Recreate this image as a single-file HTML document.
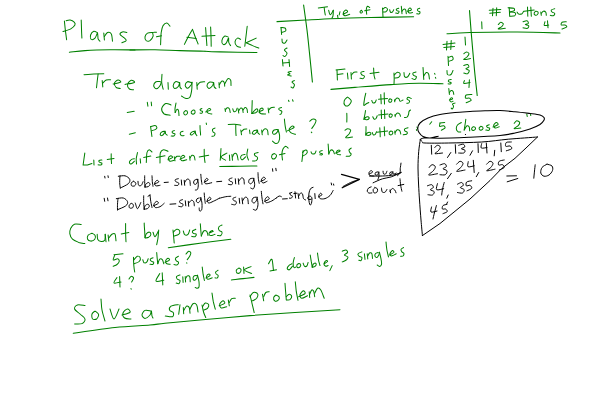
<!DOCTYPE html>
<html><head><meta charset="utf-8"><title>Plans of Attack</title>
<style>html,body{margin:0;padding:0;background:#fff;font-family:"Liberation Sans",sans-serif}svg{display:block}</style>
</head><body>
<svg width="600" height="400" viewBox="0 0 600 400">
<rect width="600" height="400" fill="#ffffff"/>
<g fill="none" stroke="#008000" stroke-width="1.02" stroke-linecap="round" stroke-linejoin="round">
<path d="M64.4 21.1 C64.6 22.7 65.0 27.4 65.4 30.5 C65.8 33.6 66.4 38.2 66.6 39.7"/>
<path d="M66.1 20.7 C66.8 20.6 68.8 19.9 70.1 20.1 C71.4 20.3 73.4 21.3 74.2 22.1 C75.0 22.9 75.5 24.0 74.9 25.1 C74.3 26.2 72.8 27.8 70.8 28.9 C68.8 30.0 64.3 31.2 63.0 31.6"/>
<path d="M81.2 20.0 C81.3 21.5 81.4 25.7 81.5 28.8 C81.6 31.8 81.8 36.6 81.9 38.1"/>
<path d="M97.5 32.8 C96.9 32.5 94.9 30.9 93.8 31.2 C92.6 31.6 91.0 33.6 90.6 35.0 C90.2 36.4 90.5 38.9 91.2 39.4 C92.0 39.9 94.0 39.2 95.0 38.1 C96.0 37.1 97.0 33.0 97.5 33.1 C98.0 33.2 97.7 37.4 98.1 38.8 C98.5 40.1 99.7 40.8 100.0 41.2"/>
<path d="M103.8 33.1 L104.4 40.0"/>
<path d="M104.4 36.5 C104.9 35.8 106.4 33.0 107.5 32.5 C108.6 32.0 110.4 32.3 111.2 33.8 C112.1 35.2 112.3 40.0 112.5 41.2"/>
<path d="M126.9 32.5 C126.1 32.4 123.6 31.6 122.5 31.9 C121.4 32.2 119.8 33.4 120.0 34.4 C120.2 35.3 122.7 36.5 123.8 37.5 C124.8 38.5 126.6 39.8 126.2 40.6 C125.9 41.5 122.6 42.4 121.9 42.8"/>
<path d="M152.8 32.5 C151.9 32.6 148.8 32.4 147.5 33.1 C146.2 33.9 145.2 35.6 145.0 36.9 C144.8 38.1 145.4 40.0 146.2 40.6 C147.1 41.2 148.9 41.4 150.0 40.6 C151.1 39.9 152.7 37.6 153.1 36.2 C153.6 34.9 152.2 33.2 152.8 32.5 C153.3 31.8 155.9 32.3 156.5 32.2"/>
<path d="M170.0 26.2 C169.5 25.7 168.0 23.2 166.9 23.1 C165.7 23.0 164.1 24.1 163.1 25.6 C162.2 27.2 161.7 29.3 161.2 32.5 C160.8 35.7 160.7 42.7 160.6 44.8"/>
<path d="M156.5 36.8 L161.5 35.8"/>
<path d="M192.5 29.4 C191.8 30.6 189.5 34.4 188.1 36.9 C186.8 39.4 185.0 43.1 184.4 44.4"/>
<path d="M192.5 29.4 C192.9 30.5 194.1 33.8 195.0 36.2 C195.9 38.7 197.6 42.7 198.1 44.0"/>
<path d="M186.9 37.2 L196.2 38.5"/>
<path d="M205.6 27.5 C205.7 29.0 206.0 33.2 206.2 36.2 C206.5 39.3 206.8 44.1 206.9 45.6"/>
<path d="M210.6 26.9 C210.7 28.4 210.9 33.0 211.0 36.2 C211.1 39.5 211.2 44.6 211.2 46.2"/>
<path d="M201.9 36.2 L215.0 35.4"/>
<path d="M228.1 36.9 C227.5 36.8 225.4 35.6 224.4 36.2 C223.3 36.9 222.1 39.3 221.9 40.6 C221.7 42.0 222.4 44.0 223.1 44.4 C223.9 44.8 225.4 44.2 226.2 43.1 C227.1 42.1 228.1 38.2 228.5 38.1 C228.9 38.0 228.4 41.2 228.8 42.5 C229.1 43.8 230.3 45.1 230.6 45.6"/>
<path d="M240.6 39.4 C240.1 39.2 238.4 37.7 237.5 38.1 C236.6 38.5 235.1 40.5 235.0 41.9 C234.9 43.2 235.9 45.4 236.9 46.2 C237.8 47.1 240.0 47.1 240.6 47.2"/>
<path d="M247.2 26.2 C247.0 27.9 246.4 32.9 246.0 36.2 C245.6 39.6 245.0 44.6 244.8 46.2"/>
<path d="M256.2 38.1 L246.2 42.8"/>
<path d="M246.2 42.8 C247.3 43.2 250.4 44.7 252.5 45.6 C254.6 46.5 257.7 47.7 258.8 48.1"/>
<path d="M84.0 74.8 C85.6 74.6 90.5 74.2 93.8 74.0 C97.0 73.8 102.1 73.8 103.8 73.8"/>
<path d="M98.1 74.0 C98.0 75.2 97.5 79.0 97.2 81.2 C97.0 83.5 96.6 86.7 96.5 87.8"/>
<path d="M102.2 80.6 L102.8 86.9"/>
<path d="M102.8 83.1 C103.3 82.6 104.9 80.6 106.2 80.0 C107.6 79.4 109.9 79.8 110.6 79.8"/>
<path d="M113.1 84.0 C114.4 83.7 119.8 82.9 120.6 82.2 C121.5 81.6 119.2 79.9 118.1 80.0 C117.1 80.1 114.7 81.9 114.4 83.1 C114.1 84.4 115.3 86.6 116.2 87.5 C117.2 88.4 119.6 88.3 120.2 88.5"/>
<path d="M125.0 84.4 C126.6 84.1 133.3 83.2 134.4 82.5 C135.4 81.8 132.4 79.9 131.2 80.2 C130.1 80.6 127.8 82.9 127.5 84.4 C127.2 85.8 128.4 88.1 129.4 89.0 C130.4 89.9 132.8 89.6 133.5 89.8"/>
<path d="M160.5 81.7 C159.7 81.7 157.1 81.1 156.0 81.7 C154.9 82.4 153.7 84.3 153.7 85.5 C153.7 86.7 155.0 88.7 156.0 88.8 C157.0 88.9 158.9 87.3 159.7 86.2 C160.6 85.2 161.0 83.1 161.2 82.5"/>
<path d="M162.0 74.2 C161.9 75.6 161.5 80.0 161.7 82.5 C161.9 85.0 162.9 88.1 163.2 89.2"/>
<path d="M168.0 82.5 L168.3 89.2"/>
<path d="M179.2 82.5 C178.6 82.4 176.5 81.2 175.5 81.7 C174.5 82.2 173.4 84.4 173.2 85.5 C173.1 86.6 173.9 88.4 174.7 88.5 C175.6 88.6 177.7 87.2 178.5 86.2 C179.3 85.2 179.4 82.4 179.7 82.5 C179.9 82.6 179.7 85.9 180.0 87.0 C180.3 88.0 181.2 88.5 181.5 88.8"/>
<path d="M191.2 82.5 C190.6 82.4 188.5 81.3 187.5 81.7 C186.5 82.2 185.2 84.1 185.2 85.2 C185.2 86.3 186.5 88.3 187.5 88.2 C188.5 88.1 190.5 85.7 191.2 84.7 C192.0 83.7 191.9 82.6 192.0 82.2"/>
<path d="M192.0 82.2 C191.9 83.5 192.1 87.4 191.7 90.0 C191.3 92.5 190.8 96.1 189.7 97.5 C188.7 98.9 186.6 98.5 185.2 98.2 C183.9 98.0 182.1 96.4 181.5 96.0"/>
<path d="M196.8 82.5 L197.2 89.2"/>
<path d="M197.2 85.5 C197.7 84.9 199.0 82.8 200.2 82.2 C201.5 81.6 204.0 81.8 204.7 81.7"/>
<path d="M213.0 82.5 C212.4 82.4 210.2 81.6 209.2 82.2 C208.2 82.7 207.0 84.7 207.0 85.8 C207.0 86.8 208.3 88.5 209.2 88.5 C210.2 88.4 211.9 86.5 212.7 85.5 C213.4 84.5 213.5 82.3 213.7 82.5 C214.0 82.7 213.8 85.7 214.2 86.7 C214.6 87.7 215.7 88.2 216.0 88.5"/>
<path d="M219.0 82.5 L219.3 87.7"/>
<path d="M219.3 84.7 C219.7 84.1 221.2 81.4 222.0 81.0 C222.8 80.6 223.8 81.6 224.2 82.5 C224.7 83.4 224.6 85.6 224.7 86.2"/>
<path d="M224.7 84.0 C225.2 83.1 227.0 79.4 228.0 78.7 C229.0 78.1 230.2 79.1 230.7 80.2 C231.2 81.4 230.9 84.6 231.0 85.5"/>
<path d="M171.0 105.0 C170.1 104.7 167.3 102.9 165.7 103.5 C164.2 104.1 161.9 107.0 161.7 108.7 C161.4 110.5 162.8 112.9 164.2 114.0 C165.7 115.1 169.2 115.0 170.2 115.2"/>
<path d="M127.2 112.5 L134.2 111.3"/>
<path d="M147.3 102.3 L147.9 106.2"/>
<path d="M151.2 102.0 L151.6 105.7"/>
<path d="M129.3 134.2 L135.3 132.7"/>
<path d="M281.0 27.6 L281.6 34.4"/>
<path d="M281.0 27.6 C281.7 27.7 284.2 27.4 285.0 28.0 C285.8 28.6 286.2 30.3 285.6 31.0 C285.0 31.7 282.3 32.2 281.6 32.4"/>
<path d="M282.0 39.0 C282.1 39.6 281.9 41.7 282.4 42.4 C282.9 43.1 284.2 43.4 285.0 43.0 C285.8 42.6 286.7 40.5 287.0 40.0"/>
<path d="M287.0 48.0 C286.6 48.3 284.4 49.2 284.4 50.0 C284.4 50.8 286.9 51.9 287.0 53.0 C287.1 54.1 285.7 56.0 285.0 56.4 C284.3 56.8 283.3 55.7 283.0 55.6"/>
<path d="M282.4 59.6 L283.0 66.0"/>
<path d="M289.0 59.6 L289.6 66.4"/>
<path d="M283.0 63.0 L289.2 62.4"/>
<path d="M291.2 71.4 C290.7 71.5 288.2 71.8 288.0 72.2 C287.8 72.6 290.1 73.5 290.0 74.0 C289.9 74.5 287.4 74.7 287.6 75.0 C287.8 75.3 290.6 75.8 291.2 76.0"/>
<path d="M294.4 80.6 C294.0 80.8 292.0 81.3 292.0 82.0 C292.0 82.7 294.2 83.6 294.4 84.6 C294.6 85.6 293.6 87.6 293.0 88.0 C292.4 88.4 291.3 87.2 291.0 87.0"/>
<path d="M337.0 70.0 L337.4 80.0"/>
<path d="M336.0 70.0 L345.0 69.0"/>
<path d="M337.4 74.6 L343.0 73.8"/>
<path d="M347.4 73.0 L348.0 79.0"/>
<path d="M351.0 72.6 L351.4 79.0"/>
<path d="M351.4 75.0 C351.8 74.5 353.1 72.7 354.0 72.2 C354.9 71.7 356.5 72.0 357.0 72.0"/>
<path d="M364.0 71.4 C363.5 71.5 361.4 71.7 361.0 72.2 C360.6 72.7 361.0 73.9 361.6 74.6 C362.2 75.3 364.2 75.5 364.4 76.2 C364.6 76.9 363.7 78.3 363.0 78.6 C362.3 78.9 360.5 78.3 360.0 78.2"/>
<path d="M373.6 68.0 C373.7 69.2 373.8 73.2 374.0 75.0 C374.2 76.8 374.8 78.3 375.0 79.0"/>
<path d="M370.0 73.4 L379.0 72.2"/>
<path d="M394.0 73.0 C394.0 74.0 394.2 77.2 394.2 79.0 C394.2 80.8 394.0 83.2 394.0 84.0"/>
<path d="M394.2 75.0 C394.7 74.5 396.4 72.4 397.4 72.2 C398.4 72.0 400.0 73.1 400.2 74.0 C400.4 74.9 399.5 76.7 398.6 77.4 C397.7 78.1 395.3 77.9 394.6 78.0"/>
<path d="M404.0 72.6 C404.1 73.3 404.0 75.9 404.6 76.6 C405.2 77.3 406.5 77.5 407.4 77.0 C408.3 76.5 409.4 74.0 409.8 73.4"/>
<path d="M416.0 72.0 C415.5 72.2 413.4 72.4 413.0 73.0 C412.6 73.6 413.0 74.8 413.6 75.4 C414.2 76.0 416.2 75.9 416.4 76.6 C416.6 77.3 415.7 79.1 415.0 79.4 C414.3 79.7 412.5 78.7 412.0 78.6"/>
<path d="M423.0 67.4 C423.1 68.5 423.3 72.0 423.4 74.0 C423.5 76.0 423.7 78.5 423.8 79.4"/>
<path d="M423.8 76.0 C424.2 75.4 425.4 72.9 426.2 72.6 C427.0 72.3 428.1 72.9 428.6 74.0 C429.1 75.1 429.3 78.2 429.4 79.0"/>
<path d="M434.6 73.4 L435.0 74.2"/>
<path d="M435.4 77.4 L435.8 78.2"/>
<path d="M347.5 97.0 C346.9 97.6 344.6 99.4 344.2 100.8 C343.8 102.2 344.2 104.6 345.0 105.3 C345.8 106.1 347.6 106.1 348.7 105.3 C349.7 104.6 351.5 102.2 351.3 100.8 C351.1 99.4 348.1 97.6 347.5 97.0"/>
<path d="M365.8 93.2 C365.6 94.2 364.8 97.0 364.5 99.0 C364.2 101.0 363.6 104.4 363.8 105.2 C364.1 106.0 365.2 104.5 366.0 104.0 C366.8 103.5 368.3 102.8 368.8 102.5"/>
<path d="M371.8 100.5 C372.0 100.9 372.3 102.5 372.8 102.8 C373.3 103.1 374.4 103.0 375.0 102.5 C375.6 102.0 376.0 100.4 376.2 100.0"/>
<path d="M380.8 94.5 C380.8 95.2 380.9 97.5 381.0 99.0 C381.1 100.5 381.2 103.0 381.2 103.8"/>
<path d="M384.2 92.8 C384.2 93.8 384.2 96.6 384.3 98.5 C384.4 100.4 384.5 103.1 384.5 104.0"/>
<path d="M378.5 99.2 L387.5 98.5"/>
<path d="M390.0 98.8 C389.8 99.0 388.9 99.5 388.8 100.0 C388.7 100.5 388.8 101.7 389.2 102.0 C389.6 102.3 390.8 102.2 391.2 101.8 C391.6 101.4 392.0 100.3 391.8 99.8 C391.6 99.3 390.3 99.0 390.0 98.8"/>
<path d="M394.5 99.8 L394.8 101.8"/>
<path d="M394.8 100.8 C395.1 100.4 395.8 98.5 396.5 98.2 C397.2 97.9 398.4 98.3 399.0 98.8 C399.6 99.3 399.3 101.0 400.0 101.2 C400.7 101.4 402.5 100.2 403.0 100.0"/>
<path d="M411.2 98.5 C410.7 98.3 408.9 97.1 408.2 97.2 C407.5 97.3 406.8 98.4 407.0 99.0 C407.2 99.6 409.2 100.1 409.5 100.8 C409.8 101.5 409.2 102.6 408.8 103.0 C408.4 103.4 407.1 103.2 406.8 103.2"/>
<path d="M365.5 110.5 C365.4 111.2 365.1 113.5 364.8 115.0 C364.5 116.5 363.7 119.1 363.8 119.5 C363.9 119.9 364.8 118.0 365.5 117.5 C366.2 117.0 367.4 116.7 368.0 116.8 C368.6 116.9 369.4 117.7 369.2 118.2 C369.0 118.7 367.7 119.6 367.0 119.8 C366.3 120.0 365.3 119.3 365.0 119.2"/>
<path d="M372.8 116.8 C373.0 117.2 373.5 118.7 374.0 119.0 C374.5 119.3 375.5 119.0 376.0 118.5 C376.5 118.0 377.0 116.2 377.2 115.8"/>
<path d="M381.2 110.0 C381.2 110.8 381.3 113.1 381.4 114.5 C381.4 115.9 381.5 117.8 381.5 118.5"/>
<path d="M384.5 109.8 C384.5 110.5 384.6 112.5 384.6 114.0 C384.7 115.5 384.8 117.8 384.8 118.5"/>
<path d="M378.5 115.0 L388.0 114.0"/>
<path d="M390.5 113.8 C390.3 114.0 389.3 114.5 389.2 115.0 C389.1 115.5 389.2 116.7 389.6 117.0 C390.0 117.3 391.2 117.2 391.6 116.8 C392.0 116.4 392.4 115.3 392.2 114.8 C392.0 114.3 390.8 114.0 390.5 113.8"/>
<path d="M395.0 114.5 L395.2 116.8"/>
<path d="M395.2 115.5 C395.5 115.1 396.3 113.5 397.0 113.2 C397.7 112.9 398.9 113.3 399.5 113.8 C400.1 114.3 400.3 115.8 400.5 116.2"/>
<path d="M410.5 110.0 C410.2 110.2 409.3 110.8 409.0 111.5 C408.7 112.2 408.8 113.5 408.5 114.5 C408.2 115.5 407.7 116.7 407.0 117.2 C406.3 117.7 404.9 117.5 404.5 117.5"/>
<path d="M346.8 113.3 C346.8 114.0 346.9 116.0 346.9 117.5 C346.9 118.9 346.8 121.2 346.8 122.0"/>
<path d="M345.0 130.2 C345.4 130.0 346.7 128.7 347.7 128.7 C348.6 128.7 350.4 129.4 350.7 130.2 C350.9 131.1 350.0 132.4 349.2 133.7 C348.4 134.9 345.2 137.2 345.7 137.7 C346.3 138.3 351.4 137.1 352.5 137.0"/>
<path d="M366.0 126.5 C366.0 127.2 366.0 129.5 366.0 131.0 C365.9 132.4 365.4 134.9 365.7 135.2 C365.9 135.5 366.7 133.2 367.5 132.8 C368.2 132.3 369.6 132.2 370.2 132.5 C370.7 132.7 371.1 133.8 370.8 134.3 C370.5 134.8 369.0 135.4 368.2 135.5 C367.4 135.6 366.4 135.0 366.0 134.9"/>
<path d="M372.3 132.5 C372.4 132.9 372.7 134.4 373.2 134.7 C373.7 135.0 374.7 134.8 375.3 134.3 C375.8 133.8 376.3 132.2 376.5 131.7"/>
<path d="M379.8 127.7 C379.8 128.5 380.0 131.0 380.1 132.5 C380.2 134.0 380.2 136.0 380.2 136.7"/>
<path d="M384.3 126.8 C384.3 127.6 384.4 130.2 384.4 131.7 C384.5 133.2 384.7 135.1 384.7 135.8"/>
<path d="M376.8 132.2 L387.7 131.0"/>
<path d="M390.7 131.0 C390.5 131.2 389.4 131.9 389.2 132.5 C389.1 133.1 389.2 134.3 389.7 134.6 C390.2 134.9 391.6 134.7 392.1 134.3 C392.6 133.8 392.9 132.4 392.7 131.9 C392.5 131.3 391.1 131.1 390.7 131.0"/>
<path d="M394.8 131.0 L395.1 134.3"/>
<path d="M395.1 132.5 C395.4 132.0 396.4 130.1 397.2 129.8 C398.0 129.5 399.1 130.0 399.7 130.7 C400.3 131.4 400.6 133.4 400.8 134.0"/>
<path d="M408.0 127.7 C407.5 127.9 405.5 128.2 405.0 128.7 C404.4 129.2 404.3 130.1 404.7 130.7 C405.1 131.3 406.9 131.6 407.2 132.2 C407.5 132.8 407.2 133.9 406.5 134.3 C405.8 134.7 403.7 134.7 403.2 134.7"/>
<path d="M526.8 114.0 L527.2 116.5"/>
<path d="M530.5 114.5 L530.8 115.5"/>
<path d="M417.0 127.0 L417.5 128.5"/>
<path d="M447.0 41.2 L446.5 50.0"/>
<path d="M451.2 40.5 L450.8 49.5"/>
<path d="M443.0 44.5 L455.0 43.0"/>
<path d="M443.8 47.5 L454.5 46.5"/>
<path d="M465.0 37.0 L465.5 45.0"/>
<path d="M448.0 56.2 L448.5 65.5"/>
<path d="M448.5 57.5 C449.1 57.3 451.2 55.9 452.0 56.2 C452.8 56.6 453.5 58.7 453.0 59.5 C452.5 60.3 449.7 61.0 449.0 61.2"/>
<path d="M463.8 53.8 C464.2 53.5 465.6 52.0 466.5 52.0 C467.4 52.0 468.9 52.9 469.0 53.8 C469.1 54.6 467.9 56.0 467.0 57.0 C466.1 58.0 463.2 59.2 463.8 59.5 C464.3 59.8 469.4 58.7 470.5 58.5"/>
<path d="M447.0 70.5 C447.1 71.2 446.8 73.8 447.5 74.5 C448.2 75.2 450.1 75.2 451.0 74.5 C451.9 73.8 452.7 71.2 453.0 70.5"/>
<path d="M463.8 65.5 C464.4 65.3 466.7 64.2 467.5 64.5 C468.3 64.8 469.0 66.3 468.8 67.0 C468.5 67.7 465.7 68.2 465.8 68.8 C465.8 69.3 469.0 69.7 469.2 70.5 C469.5 71.3 468.4 73.3 467.5 73.8 C466.6 74.2 464.4 73.1 463.8 73.0"/>
<path d="M451.2 79.4 C450.8 79.5 448.9 79.8 448.5 80.2 C448.1 80.7 448.5 81.5 449.0 81.9 C449.5 82.3 451.0 82.4 451.2 82.8 C451.5 83.1 450.8 83.8 450.2 84.0 C449.7 84.2 448.5 83.8 448.1 83.8"/>
<path d="M464.4 80.6 C464.3 81.1 463.1 83.2 464.0 83.5 C464.9 83.8 469.0 82.7 470.0 82.5"/>
<path d="M469.4 79.8 L469.0 87.5"/>
<path d="M448.8 88.5 L449.4 94.4"/>
<path d="M449.4 92.5 C449.7 92.2 450.6 90.8 451.2 90.6 C451.9 90.5 452.7 90.9 453.1 91.5 C453.5 92.1 453.6 93.9 453.8 94.4"/>
<path d="M471.9 94.4 C470.9 94.5 467.3 94.4 466.2 95.0 C465.2 95.6 465.1 97.6 465.6 98.1 C466.1 98.6 468.5 97.7 469.4 98.1 C470.3 98.5 471.5 99.9 471.0 100.6 C470.5 101.4 467.0 102.4 466.2 102.8"/>
<path d="M449.4 100.0 C449.9 99.8 452.1 99.4 452.5 99.0 C452.9 98.6 452.0 97.6 451.5 97.8 C451.0 97.9 449.8 99.1 449.8 99.8 C449.7 100.4 450.4 101.6 451.0 101.9 C451.6 102.1 452.8 101.4 453.1 101.2"/>
<path d="M455.0 103.1 C454.6 103.3 452.8 103.5 452.5 104.0 C452.2 104.5 453.5 105.4 453.5 106.2 C453.5 107.1 452.6 108.7 452.2 109.0 C451.9 109.3 451.4 108.3 451.2 108.1"/>
<path d="M117.0 277.6 C116.5 278.5 113.3 282.3 114.0 283.0 C114.7 283.7 119.8 282.2 121.0 282.0"/>
<path d="M119.6 276.4 L120.0 287.0"/>
<path d="M129.0 279.0 C129.3 278.6 130.2 276.6 131.0 276.4 C131.8 276.2 133.5 277.1 133.6 278.0 C133.7 278.9 131.9 281.3 131.6 282.0"/>
<path d="M131.0 288.6 L131.2 289.2"/>
<path d="M85.0 305.6 C83.7 305.5 79.1 304.4 77.4 305.0 C75.7 305.6 74.2 307.5 74.6 309.0 C75.0 310.5 78.3 312.3 80.0 314.0 C81.7 315.7 84.7 317.4 85.0 319.0 C85.3 320.6 83.7 322.8 82.0 323.6 C80.3 324.4 75.8 323.9 74.6 324.0"/>
<path d="M95.0 311.0 C94.5 311.5 92.4 312.7 92.0 314.0 C91.6 315.3 91.8 318.2 92.6 319.0 C93.4 319.8 95.6 319.8 96.6 319.0 C97.6 318.2 98.9 315.7 98.6 314.4 C98.3 313.1 95.6 311.6 95.0 311.0"/>
<path d="M101.0 299.0 C101.2 300.8 101.3 306.3 102.0 310.0 C102.7 313.7 104.5 319.2 105.0 321.0"/>
<path d="M110.0 309.0 C110.7 310.7 112.5 319.0 114.0 319.0 C115.5 319.0 118.2 310.7 119.0 309.0"/>
<path d="M122.0 315.0 C123.3 314.6 129.1 313.4 130.0 312.4 C130.9 311.4 128.6 308.9 127.4 309.0 C126.2 309.1 123.5 311.5 123.0 313.0 C122.5 314.5 123.3 317.0 124.6 318.0 C125.9 319.0 129.9 318.8 131.0 319.0"/>
<path d="M151.0 311.0 C150.0 310.9 146.5 309.7 145.0 310.4 C143.5 311.1 142.0 313.7 142.0 315.0 C142.0 316.3 143.7 318.4 145.0 318.4 C146.3 318.4 148.9 316.2 150.0 315.0 C151.1 313.8 151.1 310.8 151.4 311.0 C151.7 311.2 151.7 314.8 152.0 316.0 C152.3 317.2 152.8 317.7 153.0 318.0"/>
<path d="M178.3 304.7 C177.1 304.9 172.3 305.4 170.8 306.3 C169.4 307.3 169.2 309.3 169.7 310.3 C170.1 311.4 172.9 311.4 173.3 312.5 C173.8 313.6 173.8 316.1 172.5 316.7 C171.2 317.2 166.5 316.1 165.3 316.0"/>
<path d="M180.0 304.7 L178.7 314.2"/>
<path d="M183.3 307.5 L183.7 313.7"/>
<path d="M183.7 310.8 C184.1 310.1 185.4 306.9 186.3 306.3 C187.2 305.8 188.6 306.3 189.2 307.5 C189.8 308.7 189.9 312.4 190.0 313.3"/>
<path d="M190.0 309.2 C190.5 308.2 191.9 304.4 193.0 303.7 C194.1 303.0 195.8 303.6 196.7 305.0 C197.5 306.4 197.8 310.8 198.0 312.0"/>
<path d="M202.0 305.0 C202.3 306.2 203.0 310.4 203.7 312.5 C204.3 314.6 205.5 316.7 205.8 317.5"/>
<path d="M202.5 306.7 C203.0 306.1 204.3 303.3 205.3 303.0 C206.4 302.7 208.3 303.8 208.7 304.7 C209.0 305.6 208.3 307.4 207.5 308.3 C206.7 309.2 204.3 309.7 203.7 310.0"/>
<path d="M212.0 293.0 C212.2 294.4 212.8 299.0 213.3 301.7 C213.9 304.4 215.0 307.9 215.3 309.2"/>
<path d="M219.2 305.8 C220.1 305.4 224.0 304.2 224.7 303.3 C225.3 302.5 223.8 300.7 223.0 300.8 C222.2 301.0 219.9 303.0 219.7 304.2 C219.4 305.4 220.2 307.6 221.3 308.0 C222.5 308.4 225.8 306.9 226.7 306.7"/>
<path d="M228.3 300.0 L229.3 305.8"/>
<path d="M229.3 302.5 C229.7 301.9 230.7 299.4 231.7 298.7 C232.7 298.0 234.7 298.4 235.3 298.3"/>
<path d="M250.0 295.0 C250.3 296.4 251.3 300.4 252.0 303.3 C252.7 306.2 253.8 311.0 254.2 312.5"/>
<path d="M250.0 296.7 C250.6 296.0 252.1 293.0 253.3 292.5 C254.6 292.0 256.9 292.7 257.5 293.7 C258.1 294.6 257.5 297.1 256.7 298.3 C255.8 299.5 253.2 300.4 252.5 300.8"/>
<path d="M262.5 294.2 L263.7 300.8"/>
<path d="M263.7 296.7 C264.0 296.0 264.9 293.3 265.8 292.5 C266.8 291.7 268.6 291.8 269.2 291.7"/>
<path d="M275.8 295.0 C275.5 295.4 273.9 296.5 273.7 297.5 C273.5 298.5 273.9 300.4 274.7 300.8 C275.4 301.3 277.2 301.0 278.0 300.3 C278.8 299.7 279.5 297.9 279.2 297.0 C278.8 296.1 276.4 295.3 275.8 295.0"/>
<path d="M285.0 283.3 C285.1 284.9 285.4 289.7 285.7 292.5 C285.9 295.3 286.2 298.8 286.3 300.0"/>
<path d="M286.3 296.7 C286.8 296.2 288.3 294.2 289.2 294.2 C290.1 294.1 291.5 295.4 291.7 296.3 C291.8 297.2 290.8 299.1 290.0 299.7 C289.2 300.3 287.2 299.9 286.7 300.0"/>
<path d="M295.3 281.7 C295.5 283.3 295.9 288.6 296.3 291.7 C296.8 294.8 297.7 298.9 298.0 300.3"/>
<path d="M298.7 296.7 C299.7 296.2 304.2 294.6 305.0 293.7 C305.8 292.7 304.2 290.7 303.3 290.8 C302.5 291.0 300.3 293.4 300.0 294.7 C299.7 295.9 300.4 298.1 301.7 298.3 C302.9 298.5 306.5 296.2 307.5 295.8"/>
<path d="M309.2 291.7 L309.7 297.5"/>
<path d="M309.7 294.2 C310.0 293.5 311.0 290.5 311.7 290.0 C312.3 289.5 313.2 290.2 313.7 291.3 C314.2 292.4 314.5 295.8 314.7 296.7"/>
<path d="M314.7 293.3 C315.1 292.5 316.5 288.9 317.5 288.3 C318.5 287.8 319.7 288.3 320.8 290.0 C321.9 291.7 323.6 296.9 324.2 298.3"/>
<path d="M382.5 8.0 C382.6 8.9 382.8 11.8 382.8 13.3 C382.9 14.8 383.0 16.4 383.0 17.0"/>
<path d="M382.8 9.2 C383.2 8.9 384.6 7.5 385.3 7.5 C386.1 7.5 387.4 8.5 387.5 9.2 C387.6 9.9 386.6 11.2 385.8 11.7 C385.1 12.1 383.6 11.9 383.2 12.0"/>
<path d="M389.7 9.7 C389.8 10.1 389.9 11.6 390.3 12.0 C390.8 12.4 391.9 12.4 392.5 12.0 C393.1 11.6 393.5 10.1 393.7 9.7"/>
<path d="M398.7 8.3 C398.3 8.5 396.6 8.8 396.3 9.2 C396.1 9.6 396.6 10.3 397.0 10.7 C397.4 11.0 398.8 10.9 399.0 11.3 C399.2 11.8 398.6 13.1 398.0 13.3 C397.4 13.6 396.1 13.1 395.7 13.0"/>
<path d="M401.3 6.3 C401.4 6.9 401.6 8.8 401.7 10.0 C401.8 11.2 401.9 13.1 402.0 13.7"/>
<path d="M402.0 11.3 C402.3 11.0 403.1 9.4 403.7 9.2 C404.3 8.9 405.2 9.2 405.7 10.0 C406.1 10.8 406.2 13.1 406.3 13.7"/>
<path d="M407.5 11.3 C408.1 11.1 410.9 10.6 411.3 10.0 C411.8 9.4 410.6 7.9 410.0 8.0 C409.4 8.1 408.1 9.5 408.0 10.3 C407.9 11.2 408.4 12.6 409.2 13.0 C409.9 13.4 411.9 12.6 412.5 12.5"/>
<path d="M419.7 8.3 C419.3 8.5 417.8 8.7 417.5 9.2 C417.2 9.6 417.6 10.5 418.0 11.0 C418.4 11.5 419.8 11.5 420.0 12.0 C420.2 12.5 419.6 13.7 419.0 14.0 C418.4 14.3 417.1 13.7 416.7 13.7"/>
<path d="M176.0 103.1 C175.8 104.1 175.1 107.2 175.0 108.8 C174.9 110.3 175.2 111.9 175.2 112.5"/>
<path d="M175.2 112.5 C175.5 112.0 176.3 109.7 176.9 109.4 C177.4 109.1 178.1 109.6 178.5 110.6 C178.9 111.7 178.9 114.8 179.0 115.6"/>
<path d="M185.6 110.6 C185.3 110.9 183.9 111.8 183.8 112.5 C183.6 113.2 184.2 114.5 184.8 114.8 C185.3 115.0 186.8 114.3 187.2 113.8 C187.7 113.2 187.5 111.8 187.2 111.2 C187.0 110.7 185.9 110.7 185.6 110.6"/>
<path d="M193.1 110.0 C192.8 110.3 191.4 111.2 191.2 111.9 C191.1 112.5 191.7 113.8 192.2 114.0 C192.8 114.2 194.3 113.7 194.8 113.1 C195.2 112.6 195.0 111.1 194.8 110.6 C194.5 110.1 193.4 110.1 193.1 110.0"/>
<path d="M201.9 108.5 C201.6 108.6 200.5 109.0 200.2 109.4 C200.0 109.7 200.2 110.3 200.6 110.6 C201.0 111.0 202.3 111.1 202.5 111.5 C202.7 111.9 202.3 112.9 201.9 113.1 C201.5 113.4 200.3 113.1 200.0 113.1"/>
<path d="M205.6 111.9 C206.5 111.6 210.0 110.6 210.6 110.0 C211.2 109.4 210.0 108.4 209.4 108.5 C208.8 108.6 207.1 109.9 206.9 110.6 C206.7 111.4 207.3 112.6 208.1 113.1 C209.0 113.7 211.2 113.9 211.9 114.0"/>
<path d="M225.0 108.5 L225.4 111.5"/>
<path d="M225.4 110.0 C225.7 109.6 226.6 108.0 227.2 107.8 C227.9 107.5 228.9 108.0 229.4 108.8 C229.9 109.5 230.1 111.9 230.2 112.5"/>
<path d="M232.8 108.8 C232.9 109.2 233.2 111.1 233.8 111.5 C234.3 111.9 235.4 111.6 236.0 111.0 C236.6 110.4 237.0 108.6 237.2 108.1"/>
<path d="M238.1 108.8 L238.8 113.1"/>
<path d="M238.8 110.6 C239.1 110.2 240.0 108.4 240.6 108.1 C241.2 107.9 242.1 108.3 242.5 109.0 C242.9 109.7 243.0 111.9 243.1 112.5"/>
<path d="M243.1 110.0 C243.4 109.6 244.4 107.7 245.0 107.5 C245.6 107.3 246.5 107.9 246.9 108.8 C247.3 109.6 247.4 111.9 247.5 112.5"/>
<path d="M252.2 100.6 C252.2 101.8 252.1 105.4 252.0 107.5 C251.9 109.6 251.8 112.5 251.8 113.5"/>
<path d="M251.8 113.5 C252.2 113.0 253.5 111.4 254.4 110.6 C255.2 109.8 256.3 108.8 256.9 108.8 C257.4 108.8 258.0 110.0 257.8 110.6 C257.5 111.3 256.6 112.3 255.6 112.8 C254.7 113.2 252.6 113.4 252.0 113.5"/>
<path d="M258.8 111.9 C259.5 111.5 262.6 110.4 263.1 109.8 C263.6 109.1 262.5 108.0 261.9 108.1 C261.2 108.3 259.6 109.7 259.4 110.6 C259.2 111.5 259.6 112.9 260.6 113.5 C261.7 114.1 264.8 113.9 265.6 114.0"/>
<path d="M268.1 108.1 L268.8 112.8"/>
<path d="M268.8 110.0 C269.1 109.6 270.1 108.2 271.0 107.8 C271.9 107.3 273.8 107.3 274.4 107.2"/>
<path d="M281.5 107.5 C281.0 107.7 279.1 108.1 278.8 108.5 C278.4 108.9 278.9 109.5 279.4 110.0 C279.9 110.5 281.6 110.8 281.9 111.5 C282.1 112.2 281.3 113.5 281.0 114.0 C280.7 114.5 280.2 114.3 280.0 114.4"/>
<path d="M288.5 100.2 L289.0 101.5"/>
<path d="M292.5 99.8 L293.1 101.2"/>
<path d="M150.6 126.5 C150.7 127.3 151.0 129.6 151.2 131.2 C151.5 132.9 151.8 135.6 151.9 136.5"/>
<path d="M150.6 126.5 C151.4 126.4 154.0 125.5 155.0 125.6 C156.0 125.8 156.8 126.9 156.9 127.5 C157.0 128.1 156.5 128.9 155.6 129.4 C154.8 129.9 152.5 130.4 151.9 130.6"/>
<path d="M165.0 131.2 C164.5 131.4 162.7 131.4 161.9 131.9 C161.1 132.4 160.2 133.8 160.2 134.4 C160.2 135.0 161.2 135.8 161.9 135.6 C162.6 135.4 163.8 133.9 164.4 133.1 C164.9 132.4 165.0 131.1 165.2 131.2 C165.5 131.4 165.3 133.1 165.6 133.8 C166.0 134.4 167.0 135.0 167.2 135.2"/>
<path d="M174.4 130.6 C174.0 130.8 172.5 131.1 172.2 131.5 C172.0 131.9 172.3 132.7 172.8 133.1 C173.2 133.5 174.8 133.5 175.0 134.0 C175.2 134.5 174.4 135.7 173.8 136.0 C173.1 136.3 171.7 136.0 171.2 136.0"/>
<path d="M183.1 131.2 C182.8 131.4 181.5 131.5 181.0 131.9 C180.5 132.3 180.2 133.1 180.2 133.8 C180.3 134.4 180.9 135.3 181.5 135.6 C182.1 135.9 183.6 135.6 184.0 135.6"/>
<path d="M195.0 131.0 C194.5 131.1 193.0 131.4 192.2 131.9 C191.5 132.4 190.3 133.5 190.2 134.0 C190.2 134.5 191.2 135.2 191.9 135.0 C192.6 134.8 193.8 133.4 194.4 132.8 C194.9 132.1 195.0 130.8 195.2 131.0 C195.5 131.2 195.4 133.0 195.6 133.8 C195.9 134.5 196.7 135.3 196.9 135.6"/>
<path d="M200.0 125.6 C200.0 126.5 200.1 129.1 200.2 130.6 C200.4 132.2 200.6 134.3 200.6 135.0"/>
<path d="M206.2 123.1 L206.5 124.4"/>
<path d="M215.0 128.1 C214.6 128.3 212.8 128.8 212.5 129.4 C212.2 130.0 212.7 131.2 213.1 131.9 C213.5 132.6 214.9 132.8 215.0 133.5 C215.1 134.2 214.5 135.5 214.0 136.0 C213.5 136.5 212.2 136.2 211.9 136.2"/>
<path d="M228.2 124.5 C229.2 124.4 232.4 124.1 234.5 124.2 C236.6 124.3 239.8 125.1 240.8 125.3"/>
<path d="M235.8 124.5 C235.8 125.4 235.7 128.2 235.8 130.0 C235.8 131.9 236.0 134.7 236.1 135.6"/>
<path d="M240.8 130.0 L241.5 134.8"/>
<path d="M241.5 131.6 C241.9 131.2 243.1 129.7 244.0 129.2 C244.9 128.8 246.4 129.0 246.8 128.9"/>
<path d="M249.5 130.0 L250.0 133.7"/>
<path d="M256.7 130.0 C256.2 130.2 254.6 130.3 253.8 130.8 C253.1 131.4 252.2 132.6 252.2 133.2 C252.3 133.8 253.6 134.5 254.3 134.3 C255.0 134.1 256.1 132.8 256.7 132.1 C257.2 131.4 257.2 129.9 257.5 130.0 C257.7 130.1 257.6 132.0 257.9 132.7 C258.3 133.4 259.3 134.1 259.5 134.3"/>
<path d="M261.7 130.0 L262.2 134.8"/>
<path d="M262.2 132.1 C262.6 131.6 263.7 129.3 264.6 128.9 C265.5 128.6 266.9 129.1 267.4 130.0 C268.0 131.0 268.0 134.0 268.1 134.8"/>
<path d="M277.2 129.6 C276.7 129.6 274.9 129.5 274.1 130.0 C273.3 130.6 272.4 132.0 272.5 132.7 C272.6 133.4 273.6 134.4 274.4 134.3 C275.2 134.2 276.6 132.9 277.2 132.1 C277.9 131.3 277.9 130.0 278.0 129.6"/>
<path d="M278.0 129.6 C278.3 130.6 279.5 133.6 279.6 135.6 C279.8 137.6 279.5 140.3 278.8 141.6 C278.2 142.9 276.7 143.6 275.7 143.5 C274.6 143.4 273.0 141.5 272.5 141.1"/>
<path d="M284.4 119.0 C284.5 120.1 284.8 123.9 285.2 126.1 C285.5 128.3 286.2 131.1 286.4 132.1"/>
<path d="M287.5 130.8 C288.6 130.3 293.1 128.5 293.9 127.7 C294.7 126.9 293.1 125.8 292.3 126.1 C291.5 126.3 289.4 128.1 289.1 129.2 C288.9 130.4 289.7 131.9 290.7 132.7 C291.8 133.6 294.7 134.1 295.5 134.3"/>
<path d="M309.7 121.3 C310.2 120.9 311.8 119.1 312.9 119.0 C313.9 118.8 315.8 119.6 316.0 120.5 C316.3 121.5 315.2 123.2 314.5 124.5 C313.7 125.8 312.2 127.8 311.8 128.5"/>
<path d="M311.3 132.1 L311.8 132.7"/>
<path d="M152.0 152.0 C151.5 151.6 150.0 149.6 149.2 149.7 C148.3 149.8 147.5 150.4 147.0 152.5 C146.5 154.6 146.4 160.8 146.3 162.5"/>
<path d="M143.7 157.5 L150.8 156.0"/>
<path d="M168.0 151.3 C167.2 151.1 164.6 149.4 163.3 149.7 C162.1 149.9 160.9 150.8 160.3 153.0 C159.8 155.2 160.1 161.3 160.0 163.0"/>
<path d="M156.3 157.5 L165.0 155.8"/>
<path d="M168.0 159.7 C168.8 159.3 172.0 158.1 172.5 157.5 C173.0 156.9 171.5 155.7 170.8 155.8 C170.1 156.0 168.5 157.4 168.3 158.3 C168.2 159.2 169.0 161.0 170.0 161.3 C171.0 161.7 173.5 160.5 174.2 160.3"/>
<path d="M174.2 156.7 L175.0 160.8"/>
<path d="M175.0 158.3 C175.3 158.0 176.2 156.7 177.0 156.3 C177.8 156.0 179.5 156.3 180.0 156.3"/>
<path d="M180.0 159.2 C180.8 158.8 184.2 157.6 184.7 157.0 C185.2 156.4 183.7 155.2 183.0 155.3 C182.3 155.5 180.8 157.1 180.7 158.0 C180.5 158.9 181.0 160.6 182.0 160.8 C183.0 161.1 185.9 159.9 186.7 159.7"/>
<path d="M189.7 156.3 L190.0 160.3"/>
<path d="M190.0 158.0 C190.3 157.6 191.3 155.6 192.0 155.3 C192.7 155.1 193.7 155.6 194.2 156.3 C194.7 157.1 194.9 159.4 195.0 160.0"/>
<path d="M204.2 149.2 C204.2 150.4 204.2 154.4 204.3 156.7 C204.5 158.9 204.9 161.5 205.0 162.5"/>
<path d="M199.2 157.0 L208.7 155.3"/>
<path d="M318.3 8.0 L327.5 6.7"/>
<path d="M324.2 7.5 C324.2 8.2 324.5 10.4 324.7 11.7 C324.9 12.9 325.2 14.4 325.3 15.0"/>
<path d="M328.7 10.3 C328.9 11.1 329.6 14.7 330.3 14.7 C331.1 14.7 332.8 11.1 333.3 10.3"/>
<path d="M333.3 10.3 C333.3 11.2 333.2 14.6 333.0 15.8 C332.8 17.1 332.2 17.6 332.0 18.0"/>
<path d="M337.5 15.3 L338.0 18.0"/>
<path d="M340.0 11.7 L339.2 15.0"/>
<path d="M343.0 14.2 C343.8 13.8 347.0 12.7 347.5 12.0 C348.0 11.3 346.5 9.8 345.8 10.0 C345.1 10.2 343.5 12.0 343.3 13.0 C343.2 14.0 343.9 15.6 345.0 15.8 C346.1 16.0 348.9 14.4 349.7 14.2"/>
<path d="M361.3 10.3 C361.1 10.6 360.1 11.2 360.0 11.7 C359.9 12.1 360.4 12.9 360.8 13.0 C361.2 13.1 362.4 12.4 362.5 12.0 C362.6 11.6 361.5 10.6 361.3 10.3"/>
<path d="M369.7 7.5 C369.3 7.3 368.1 6.1 367.5 6.3 C366.9 6.6 366.5 7.9 366.3 9.2 C366.2 10.5 366.6 13.3 366.7 14.2"/>
<path d="M364.7 10.8 L370.0 9.7"/>
<path d="M431.7 121.7 L429.7 124.2"/>
<path d="M439.7 123.0 L444.7 122.5"/>
<path d="M440.0 123.3 C439.9 123.8 439.1 125.9 439.7 126.3 C440.3 126.8 442.8 125.6 443.7 125.8 C444.6 126.1 445.4 127.2 445.0 128.0 C444.6 128.8 441.9 129.9 441.3 130.3"/>
<path d="M461.3 122.5 C460.7 122.9 458.3 124.0 457.5 125.0 C456.7 126.0 456.2 127.6 456.3 128.7 C456.4 129.8 457.2 131.1 458.0 131.7 C458.8 132.2 460.4 131.9 460.8 132.0"/>
<path d="M465.8 119.2 C465.7 120.1 465.3 123.2 465.0 125.0 C464.7 126.8 464.3 129.2 464.2 130.0"/>
<path d="M464.2 130.0 C464.6 129.3 466.2 126.3 467.0 125.8 C467.8 125.3 468.7 126.2 469.2 127.0 C469.6 127.8 469.6 130.2 469.7 130.8"/>
<path d="M473.3 126.7 C473.1 126.9 471.8 127.7 471.7 128.3 C471.5 128.9 471.9 130.1 472.5 130.3 C473.1 130.6 474.5 130.1 475.0 129.7 C475.5 129.2 475.6 128.0 475.3 127.5 C475.1 127.0 473.7 126.8 473.3 126.7"/>
<path d="M480.8 126.3 C480.6 126.6 479.3 127.4 479.2 128.0 C479.0 128.6 479.4 129.8 480.0 130.0 C480.6 130.2 482.0 129.8 482.5 129.3 C483.0 128.9 483.1 127.7 482.8 127.2 C482.6 126.7 481.2 126.5 480.8 126.3"/>
<path d="M489.2 124.7 C488.8 124.9 487.0 125.4 486.7 125.8 C486.4 126.3 486.8 126.9 487.3 127.3 C487.8 127.8 489.4 127.8 489.7 128.3 C489.9 128.8 489.3 130.1 488.7 130.3 C488.0 130.6 486.3 130.1 485.8 130.0"/>
<path d="M493.0 127.0 C493.8 126.6 497.4 125.4 498.0 124.7 C498.6 123.9 497.1 122.4 496.3 122.5 C495.6 122.6 493.8 124.4 493.7 125.3 C493.5 126.2 494.4 127.8 495.3 128.0 C496.2 128.2 498.5 126.9 499.2 126.7"/>
<path d="M514.2 123.3 C514.6 122.9 515.8 121.0 516.7 120.8 C517.6 120.7 519.4 121.7 519.7 122.5 C519.9 123.3 518.9 124.8 518.0 125.8 C517.1 126.9 513.7 128.3 514.2 128.7 C514.6 129.0 519.7 128.1 520.8 128.0"/>
<path d="M493.0 8.3 L492.5 15.7"/>
<path d="M496.7 7.8 L496.3 15.7"/>
<path d="M489.2 10.3 L500.8 9.5"/>
<path d="M489.7 13.3 L500.3 12.3"/>
<path d="M509.2 7.8 L509.7 16.2"/>
<path d="M508.0 7.8 C508.9 7.9 512.6 7.9 513.7 8.3 C514.7 8.8 514.8 10.1 514.2 10.7 C513.6 11.3 510.7 11.8 510.0 12.0"/>
<path d="M510.0 12.0 C510.9 12.1 514.6 12.2 515.3 12.8 C516.1 13.4 515.6 15.1 514.7 15.7 C513.8 16.2 510.8 16.1 510.0 16.2"/>
<path d="M517.0 12.0 C517.3 12.3 517.8 13.7 518.7 14.0 C519.5 14.3 521.2 14.1 522.0 13.7 C522.8 13.2 523.4 11.6 523.7 11.2"/>
<path d="M527.5 7.0 L527.8 16.2"/>
<path d="M530.8 7.0 L531.3 16.2"/>
<path d="M524.2 11.2 L534.2 10.0"/>
<path d="M535.8 11.2 C535.6 11.4 534.3 12.2 534.2 12.8 C534.0 13.5 534.4 14.7 535.0 15.0 C535.6 15.3 537.0 15.0 537.5 14.5 C538.0 14.0 538.3 12.6 538.0 12.0 C537.7 11.4 536.2 11.3 535.8 11.2"/>
<path d="M540.8 12.0 L541.3 15.3"/>
<path d="M541.3 13.3 C541.7 13.0 542.6 11.3 543.3 11.2 C544.1 11.0 545.3 11.6 545.8 12.3 C546.3 13.0 546.2 14.8 546.3 15.3"/>
<path d="M554.7 8.7 C554.1 8.9 551.8 9.4 551.3 10.0 C550.9 10.6 551.4 11.4 552.0 12.0 C552.6 12.6 554.4 12.7 554.7 13.3 C554.9 13.9 554.1 15.3 553.3 15.7 C552.6 16.0 550.8 15.4 550.3 15.3"/>
<path d="M481.7 21.7 L482.0 28.7"/>
<path d="M498.3 24.5 C498.8 24.1 500.0 22.4 500.8 22.3 C501.7 22.2 503.2 23.3 503.3 24.0 C503.5 24.7 502.5 25.8 501.7 26.7 C500.8 27.5 497.7 28.7 498.3 29.0 C498.9 29.3 504.2 28.4 505.3 28.3"/>
<path d="M523.0 21.7 C523.7 21.5 526.1 20.4 527.0 20.7 C527.9 20.9 528.6 22.7 528.3 23.3 C528.1 24.0 525.3 24.1 525.3 24.5 C525.4 24.9 528.3 25.0 528.7 25.7 C529.0 26.3 528.4 28.0 527.5 28.3 C526.6 28.7 523.8 27.9 523.0 27.8"/>
<path d="M545.0 21.7 C544.9 22.3 543.7 24.8 544.3 25.3 C544.9 25.9 547.9 25.1 548.7 25.0"/>
<path d="M547.5 20.7 L548.0 27.8"/>
<path d="M566.3 21.7 C565.6 21.8 562.8 21.8 562.0 22.3 C561.2 22.9 560.8 24.6 561.3 25.0 C561.8 25.4 564.1 24.7 565.0 25.0 C565.9 25.3 567.2 26.3 566.7 27.0 C566.2 27.7 562.8 28.7 562.0 29.0"/>
<path d="M159.8 273.6 C159.1 274.9 155.3 280.0 156.0 281.1 C156.7 282.2 162.5 280.4 163.8 280.2"/>
<path d="M162.2 272.8 L162.8 284.9"/>
<path d="M180.0 274.9 C179.4 275.1 177.0 275.8 176.5 276.5 C176.0 277.2 176.7 278.3 177.2 279.0 C177.8 279.7 179.7 279.7 180.0 280.5 C180.3 281.3 179.6 283.2 179.0 283.6 C178.4 284.0 176.7 283.1 176.2 283.0"/>
<path d="M182.8 276.8 L183.1 282.4"/>
<path d="M185.2 276.5 L185.6 282.0"/>
<path d="M185.6 278.6 C185.9 278.1 186.8 276.1 187.5 275.8 C188.2 275.4 189.3 275.8 189.8 276.8 C190.2 277.8 190.2 280.9 190.2 281.8"/>
<path d="M196.5 275.5 C196.0 275.6 194.3 275.5 193.8 276.1 C193.2 276.7 193.0 278.3 193.1 279.0 C193.3 279.7 194.1 280.4 194.8 280.2 C195.4 280.1 196.4 278.8 196.9 278.0 C197.3 277.2 197.4 275.7 197.5 275.2"/>
<path d="M197.5 275.2 C197.8 276.3 198.8 279.8 199.0 281.8 C199.2 283.7 199.4 285.9 199.0 287.0 C198.6 288.1 197.5 288.2 196.9 288.2 C196.2 288.3 195.5 287.5 195.2 287.4"/>
<path d="M202.2 267.0 C202.4 268.2 202.8 272.0 203.1 274.2 C203.5 276.5 204.2 279.5 204.4 280.5"/>
<path d="M206.0 278.0 C206.7 277.6 209.5 276.2 210.0 275.5 C210.5 274.8 209.3 273.8 208.8 274.0 C208.2 274.2 206.7 275.6 206.5 276.5 C206.3 277.4 206.8 279.0 207.8 279.2 C208.7 279.5 211.5 278.0 212.2 277.8"/>
<path d="M218.1 270.2 C217.7 270.5 215.9 271.4 215.6 272.0 C215.3 272.6 215.8 273.4 216.2 274.0 C216.7 274.6 218.0 274.8 218.1 275.5 C218.3 276.2 217.8 277.6 217.2 278.0 C216.7 278.4 215.4 277.8 215.0 277.8"/>
<path d="M239.0 268.0 C238.6 268.3 236.7 269.2 236.4 270.0 C236.1 270.8 236.4 272.6 237.0 273.0 C237.6 273.4 239.3 273.2 240.0 272.6 C240.7 272.0 241.2 270.2 241.0 269.4 C240.8 268.6 239.3 268.2 239.0 268.0"/>
<path d="M243.6 267.0 L244.0 273.4"/>
<path d="M251.0 266.6 C249.9 267.2 244.3 268.9 244.4 270.0 C244.5 271.1 250.4 272.8 251.6 273.4"/>
<path d="M268.5 263.8 C269.1 263.0 271.0 258.2 271.9 259.4 C272.7 260.5 273.2 268.8 273.5 270.6"/>
<path d="M270.0 271.0 L276.5 269.8"/>
<path d="M291.9 263.8 C291.4 264.1 289.5 264.8 288.8 265.6 C288.0 266.4 287.1 267.8 287.2 268.5 C287.4 269.2 288.5 270.1 289.4 269.8 C290.2 269.4 292.0 266.8 292.5 266.2"/>
<path d="M294.4 257.5 C294.2 258.4 293.2 261.5 293.1 263.1 C293.1 264.8 293.5 266.9 294.0 267.5 C294.5 268.1 295.7 267.0 296.0 266.9"/>
<path d="M298.8 263.5 C298.4 263.8 297.1 264.3 296.9 265.0 C296.7 265.7 297.0 267.2 297.5 267.5 C298.0 267.8 299.5 267.4 300.0 266.9 C300.5 266.4 300.8 264.9 300.6 264.4 C300.4 263.8 299.1 263.6 298.8 263.5"/>
<path d="M303.1 263.1 C303.3 263.6 303.8 265.8 304.4 266.2 C305.0 266.7 306.2 266.6 306.9 266.0 C307.5 265.4 307.9 263.1 308.1 262.5"/>
<path d="M310.2 255.0 C310.4 256.0 310.9 259.2 311.2 261.2 C311.6 263.3 312.1 266.2 312.2 267.2"/>
<path d="M312.2 267.2 C312.4 266.8 312.6 265.1 313.1 264.4 C313.6 263.7 314.7 263.1 315.2 263.1 C315.8 263.2 316.3 264.2 316.2 264.8 C316.2 265.3 315.4 266.1 314.8 266.5 C314.1 266.9 312.9 267.1 312.5 267.2"/>
<path d="M317.5 253.1 C317.7 254.3 318.1 257.9 318.5 260.0 C318.9 262.1 319.8 264.7 320.0 265.6"/>
<path d="M323.8 264.0 C324.4 263.6 327.1 262.1 327.5 261.5 C327.9 260.9 326.6 260.2 326.0 260.6 C325.4 261.0 324.1 262.8 324.0 263.8 C323.9 264.7 324.9 265.9 325.6 266.2 C326.3 266.6 327.7 265.7 328.1 265.6"/>
<path d="M332.2 265.6 L329.8 270.6"/>
<path d="M342.2 251.2 C342.9 251.0 345.1 249.8 346.0 250.0 C346.9 250.2 347.8 251.7 347.5 252.5 C347.2 253.3 344.3 254.3 344.4 255.0 C344.4 255.7 347.4 256.0 347.8 256.9 C348.1 257.7 347.2 259.2 346.2 260.0 C345.3 260.8 342.9 261.6 342.2 261.9"/>
<path d="M361.9 251.9 C361.2 252.2 358.6 253.0 358.1 253.8 C357.6 254.5 358.4 255.6 359.0 256.2 C359.6 256.9 361.5 256.8 361.9 257.5 C362.2 258.2 361.5 260.2 361.0 260.6 C360.5 261.1 359.1 260.3 358.8 260.2"/>
<path d="M364.4 253.8 L365.0 259.4"/>
<path d="M367.2 253.8 L367.8 259.0"/>
<path d="M367.8 256.0 C368.1 255.5 369.1 253.1 369.8 252.8 C370.4 252.4 371.4 252.8 371.9 253.8 C372.3 254.7 372.4 257.7 372.5 258.5"/>
<path d="M378.1 252.5 C377.7 252.7 376.1 252.9 375.6 253.5 C375.1 254.1 374.8 255.6 375.0 256.2 C375.2 256.9 376.2 257.7 376.9 257.5 C377.5 257.3 378.3 255.9 378.8 255.0 C379.2 254.1 379.3 252.7 379.4 252.2"/>
<path d="M379.4 252.2 C379.6 253.3 380.6 256.7 381.0 258.8 C381.4 260.8 381.8 263.1 381.5 264.4 C381.2 265.7 380.1 266.4 379.4 266.5 C378.7 266.6 377.6 265.2 377.2 265.0"/>
<path d="M386.0 241.9 C386.1 243.2 386.5 247.5 386.9 250.0 C387.3 252.5 388.2 255.7 388.5 256.9"/>
<path d="M389.4 255.0 C390.1 254.6 393.2 253.2 393.8 252.5 C394.3 251.8 393.1 250.5 392.5 250.6 C391.9 250.8 390.2 252.6 390.0 253.5 C389.8 254.4 390.5 256.0 391.5 256.0 C392.5 256.0 395.5 254.1 396.2 253.8"/>
<path d="M403.5 247.5 C403.1 247.8 401.3 248.6 401.0 249.4 C400.7 250.1 401.4 251.2 401.9 251.9 C402.3 252.5 403.5 252.4 403.8 253.1 C404.0 253.8 403.6 255.5 403.1 256.0 C402.6 256.5 401.0 256.2 400.6 256.2"/>
<path d="M416.4 129.6 L416.6 130.4"/>
<path d="M84.8 153.1 L83.8 160.0 L83.1 165.0 L87.5 165.0 L91.9 163.5"/>
<path d="M93.8 160.0 L94.0 165.0"/>
<path d="M101.9 160.0 C101.4 160.1 99.4 160.2 99.0 160.6 C98.6 161.0 98.9 161.8 99.4 162.2 C99.9 162.7 101.6 162.7 101.9 163.1 C102.1 163.6 101.6 164.7 101.0 165.0 C100.4 165.3 98.6 164.8 98.1 164.8"/>
<path d="M111.2 153.8 C111.2 154.6 111.2 157.1 111.2 158.8 C111.3 160.4 111.5 162.7 111.5 163.5"/>
<path d="M107.2 159.4 L114.0 158.5"/>
<path d="M134.4 158.8 C133.8 158.9 131.8 159.1 131.0 159.8 C130.2 160.4 129.3 161.8 129.4 162.5 C129.4 163.2 130.4 164.2 131.2 164.0 C132.1 163.8 133.9 161.7 134.4 161.2"/>
<path d="M137.5 152.5 C137.3 153.5 136.4 156.8 136.2 158.8 C136.1 160.7 136.5 163.1 136.5 164.0"/>
<path d="M140.2 158.8 L140.6 163.1"/>
<path d="M303.1 150.6 C303.0 151.6 302.7 154.4 302.5 156.2 C302.3 158.1 302.0 160.6 301.9 161.5"/>
<path d="M302.5 152.5 C302.9 152.1 304.2 150.5 305.0 150.2 C305.8 150.0 307.0 150.6 307.2 151.2 C307.5 151.9 307.0 153.2 306.2 154.0 C305.5 154.8 303.3 155.7 302.8 156.0"/>
<path d="M311.0 151.9 C311.2 152.2 311.6 153.5 312.2 153.8 C312.9 154.0 314.1 154.0 314.8 153.5 C315.4 153.0 315.8 151.4 316.0 151.0"/>
<path d="M322.2 150.6 C321.8 150.8 320.1 151.1 319.8 151.5 C319.4 151.9 319.8 152.7 320.2 153.1 C320.7 153.5 322.3 153.7 322.5 154.0 C322.7 154.3 322.0 154.9 321.5 155.0 C321.0 155.1 320.0 154.8 319.8 154.8"/>
<path d="M328.1 144.0 C328.2 144.9 328.4 147.7 328.5 149.4 C328.6 151.0 328.7 153.2 328.8 154.0"/>
<path d="M328.8 154.0 C329.1 153.4 329.9 150.8 330.6 150.2 C331.4 149.7 332.5 150.0 333.1 150.6 C333.8 151.2 334.2 153.2 334.4 153.8"/>
<path d="M335.6 153.1 C336.4 152.8 339.5 151.8 340.0 151.2 C340.5 150.7 339.3 149.9 338.8 150.0 C338.2 150.1 336.7 151.1 336.5 151.9 C336.3 152.6 336.8 153.9 337.5 154.4 C338.2 154.9 340.1 154.7 340.6 154.8"/>
<path d="M351.2 148.1 C350.9 148.4 349.2 149.3 349.0 150.0 C348.8 150.7 349.4 151.8 349.8 152.5 C350.1 153.2 351.3 153.4 351.2 154.0 C351.2 154.6 350.2 155.9 349.4 156.2 C348.5 156.6 346.8 156.2 346.2 156.2"/>
<path d="M221.0 148.5 C220.9 149.6 220.8 153.0 220.6 155.0 C220.5 157.0 220.3 159.4 220.2 160.2"/>
<path d="M226.9 153.1 C225.9 153.8 221.2 155.7 221.0 156.9 C220.8 158.1 224.9 159.7 225.6 160.2"/>
<path d="M229.4 155.0 L229.8 160.6"/>
<path d="M231.9 154.4 L232.5 160.2"/>
<path d="M232.5 156.9 C232.8 156.3 233.6 153.9 234.4 153.5 C235.1 153.1 236.2 153.3 236.9 154.4 C237.5 155.5 237.9 159.1 238.1 160.0"/>
<path d="M245.0 154.4 C244.5 154.5 242.6 154.7 241.9 155.2 C241.1 155.8 240.5 157.0 240.6 157.8 C240.7 158.5 241.7 159.9 242.5 159.8 C243.3 159.6 245.1 157.4 245.6 156.9"/>
<path d="M247.8 149.0 C247.6 150.0 246.8 153.2 246.9 155.0 C247.0 156.8 248.2 159.2 248.5 160.0"/>
<path d="M258.1 152.5 C257.6 152.7 255.3 153.0 254.8 153.5 C254.2 154.0 254.5 155.0 255.0 155.6 C255.5 156.3 257.3 156.7 257.5 157.5 C257.7 158.3 257.1 160.0 256.2 160.6 C255.4 161.2 253.1 160.9 252.5 161.0"/>
<path d="M274.4 153.5 C274.0 153.8 272.2 154.4 271.9 155.2 C271.5 156.1 271.7 158.0 272.2 158.5 C272.8 159.0 274.3 159.0 275.0 158.5 C275.7 158.0 276.6 156.1 276.5 155.2 C276.4 154.4 274.7 153.8 274.4 153.5"/>
<path d="M288.1 148.1 C287.7 147.8 286.5 146.1 285.6 146.2 C284.8 146.4 283.8 147.5 283.1 148.8 C282.5 150.0 282.0 151.9 281.9 153.8 C281.8 155.6 282.4 159.0 282.5 160.0"/>
<path d="M279.4 154.8 L285.0 153.5"/>
<path d="M81.2 224.5 C80.1 224.5 76.1 223.6 74.4 224.2 C72.6 224.9 71.4 227.1 70.6 228.6 C69.9 230.2 69.4 231.9 69.8 233.6 C70.1 235.4 71.0 237.8 72.5 239.2 C74.0 240.7 76.7 241.6 78.8 242.4 C80.8 243.1 83.8 243.4 84.8 243.6"/>
<path d="M91.9 233.2 C91.2 233.6 88.9 234.3 88.1 235.2 C87.4 236.2 87.1 238.0 87.5 239.0 C87.9 240.0 89.4 241.1 90.6 241.1 C91.8 241.2 94.0 240.2 94.8 239.2 C95.5 238.3 95.5 236.2 95.0 235.2 C94.5 234.2 92.4 233.6 91.9 233.2"/>
<path d="M97.2 234.2 C97.3 235.1 97.1 238.3 97.8 239.5 C98.4 240.7 100.1 241.4 101.2 241.5 C102.4 241.6 104.1 241.1 104.8 239.9 C105.4 238.7 105.2 235.2 105.2 234.2"/>
<path d="M105.2 234.2 L106.0 241.8"/>
<path d="M108.1 234.9 L108.8 241.1"/>
<path d="M108.8 238.0 C109.3 237.4 110.8 234.9 111.9 234.2 C112.9 233.6 114.3 232.9 115.0 234.0 C115.7 235.1 115.8 239.6 116.0 240.8"/>
<path d="M125.6 223.6 C125.6 225.2 125.6 230.0 125.6 233.0 C125.7 236.0 125.9 240.3 126.0 241.8"/>
<path d="M121.2 234.0 L128.8 232.4"/>
<path d="M144.2 223.0 C144.2 224.4 144.5 228.9 144.7 231.3 C144.8 233.8 144.9 236.6 145.0 237.7"/>
<path d="M145.0 237.7 C145.2 237.0 145.6 234.8 146.3 233.8 C147.1 232.9 148.9 232.0 149.7 232.2 C150.4 232.3 151.0 233.8 150.8 234.7 C150.7 235.5 149.6 236.6 148.7 237.2 C147.8 237.7 145.9 237.9 145.3 238.0"/>
<path d="M153.0 232.2 C153.3 232.9 154.1 236.8 155.0 236.7 C155.9 236.5 157.8 232.2 158.3 231.3"/>
<path d="M158.7 230.0 C158.6 231.3 158.3 235.6 158.0 238.0 C157.7 240.4 156.9 243.6 156.7 244.7"/>
<path d="M173.0 230.0 C173.1 231.2 173.5 235.0 173.7 237.2 C173.9 239.3 174.1 242.0 174.2 243.0"/>
<path d="M173.3 232.2 C173.9 231.7 175.6 229.5 176.7 229.3 C177.7 229.1 179.3 230.2 179.7 231.0 C180.0 231.8 179.6 233.5 178.7 234.3 C177.7 235.2 174.8 235.7 174.0 236.0"/>
<path d="M183.3 231.0 C183.6 231.6 183.9 234.1 184.7 234.7 C185.4 235.2 187.2 235.1 188.0 234.3 C188.8 233.6 189.4 230.7 189.7 230.0"/>
<path d="M195.8 229.3 C195.3 229.6 192.9 230.3 192.5 231.0 C192.1 231.7 192.7 232.8 193.3 233.3 C194.0 233.9 196.1 233.8 196.3 234.3 C196.6 234.9 195.8 236.3 195.0 236.7 C194.2 237.0 192.2 236.4 191.7 236.3"/>
<path d="M200.3 223.8 C200.4 224.9 200.7 228.5 200.8 230.5 C201.0 232.5 201.2 235.1 201.3 236.0"/>
<path d="M201.3 236.0 C201.7 235.2 202.8 231.8 203.7 231.0 C204.6 230.2 205.9 230.6 206.7 231.3 C207.4 232.1 207.8 234.8 208.0 235.5"/>
<path d="M212.5 230.5 C212.0 230.8 210.2 231.5 209.7 232.2 C209.1 232.9 208.8 234.1 209.2 234.7 C209.5 235.2 210.7 235.6 211.7 235.5 C212.6 235.4 214.4 234.5 215.0 234.3"/>
<path d="M210.0 232.7 L213.3 231.3"/>
<path d="M222.0 225.0 C221.4 225.4 219.1 226.2 218.7 227.2 C218.2 228.1 218.6 229.7 219.2 230.5 C219.7 231.3 221.7 231.3 222.0 232.2 C222.3 233.0 221.6 234.9 220.8 235.5 C220.1 236.1 218.1 235.5 217.5 235.5"/>
<path d="M114.0 254.7 L123.0 253.7"/>
<path d="M114.7 255.2 C114.5 256.0 112.7 259.4 113.2 260.0 C113.7 260.6 116.7 258.5 117.7 258.8 C118.7 259.0 119.4 260.5 119.2 261.5 C119.1 262.4 118.0 263.7 117.0 264.5 C116.0 265.3 113.9 266.0 113.2 266.3"/>
<path d="M133.5 257.3 C133.5 258.6 133.6 262.8 133.8 265.2 C134.0 267.7 134.5 270.9 134.7 272.0"/>
<path d="M133.8 260.0 C134.4 259.4 136.2 256.6 137.2 256.2 C138.3 255.9 139.9 256.9 140.2 257.7 C140.6 258.6 140.2 260.5 139.2 261.5 C138.2 262.5 135.1 263.4 134.2 263.7"/>
<path d="M142.8 259.7 C143.0 260.2 143.3 262.3 144.0 262.7 C144.6 263.1 146.0 262.9 146.7 262.2 C147.4 261.6 147.9 259.4 148.2 258.8"/>
<path d="M153.0 257.7 C152.5 258.0 150.6 258.7 150.3 259.2 C150.0 259.8 150.6 260.7 151.2 261.2 C151.8 261.7 153.5 261.7 153.7 262.2 C154.0 262.8 153.3 264.2 152.7 264.5 C152.1 264.8 150.4 264.2 150.0 264.2"/>
<path d="M156.7 252.5 C156.8 253.5 157.0 256.6 157.2 258.5 C157.4 260.4 157.7 262.9 157.8 263.7"/>
<path d="M157.8 263.7 C158.1 263.0 159.0 259.9 159.7 259.2 C160.5 258.6 161.6 258.9 162.3 259.7 C163.0 260.4 163.5 263.1 163.8 263.7"/>
<path d="M165.0 262.2 C165.7 261.9 169.0 260.7 169.5 260.0 C170.0 259.3 168.6 258.1 168.0 258.2 C167.4 258.3 165.9 259.8 165.7 260.7 C165.5 261.7 166.0 263.2 166.8 263.7 C167.5 264.3 169.7 264.1 170.2 264.2"/>
<path d="M178.5 256.2 C178.0 256.6 175.9 257.4 175.5 258.2 C175.1 258.9 175.7 260.1 176.2 260.7 C176.7 261.4 178.3 261.6 178.5 262.2 C178.7 262.9 178.0 264.4 177.3 264.8 C176.5 265.2 174.5 264.5 174.0 264.5"/>
<path d="M186.0 254.0 C186.4 253.5 187.9 251.5 188.7 251.3 C189.5 251.1 190.6 252.0 190.8 252.8 C191.0 253.6 190.3 255.1 189.7 256.2 C189.1 257.4 187.6 259.1 187.2 259.7"/>
<path d="M186.6 262.8 L186.9 263.1"/>
</g>
<g fill="none" stroke="#008000" stroke-width="1.1" stroke-linecap="round" stroke-linejoin="round">
<path d="M69.4 52.2 C72.0 52.0 78.2 51.0 85.0 50.6 C91.8 50.2 101.7 49.9 110.0 49.8 C118.3 49.6 130.8 50.0 135.0 50.0"/>
<path d="M130.0 50.0 C134.2 50.0 146.7 49.6 155.0 49.8 C163.3 49.9 171.7 50.4 180.0 50.6 C188.3 50.9 200.8 51.1 205.0 51.2"/>
<path d="M205.0 51.2 C207.5 51.4 211.4 51.7 220.0 51.9 C228.6 52.1 250.7 52.4 256.9 52.5"/>
<path d="M277.0 21.6 C281.8 21.3 293.8 20.6 306.0 20.0 C318.2 19.4 337.7 18.4 350.0 18.0 C362.3 17.6 369.4 17.6 380.0 17.4 C390.6 17.2 408.0 16.9 413.6 16.8"/>
<path d="M303.6 5.0 C304.2 9.2 305.9 21.2 307.0 30.0 C308.1 38.8 309.1 49.3 310.0 58.0 C310.9 66.7 312.0 78.0 312.4 82.0"/>
<path d="M331.0 89.4 C335.0 89.1 345.0 88.2 355.0 87.4 C365.0 86.6 380.3 85.3 391.0 84.6 C401.7 83.9 410.3 83.3 419.0 83.2 C427.7 83.1 439.0 83.7 443.0 83.8"/>
<path d="M447.0 33.8 C450.8 33.5 458.2 32.8 470.0 32.5 C481.8 32.2 502.5 31.9 517.5 32.0 C532.5 32.1 552.9 32.8 560.0 33.0"/>
<path d="M469.5 10.5 C469.8 14.2 470.4 22.6 471.2 32.5 C472.1 42.4 473.5 59.5 474.5 70.0 C475.5 80.5 476.8 91.2 477.2 95.5"/>
<path d="M231.4 280.0 C233.3 279.8 239.2 279.0 243.0 278.6 C246.8 278.2 252.2 277.6 254.0 277.4"/>
<path d="M73.3 333.3 C80.2 332.3 102.2 328.9 115.0 327.5 C127.8 326.1 141.7 325.7 150.0 325.0 C158.3 324.3 156.7 324.1 165.0 323.3 C173.3 322.5 185.8 321.3 200.0 320.0 C214.2 318.7 234.2 316.9 250.0 315.6 C265.8 314.4 280.0 313.5 295.0 312.5 C310.0 311.5 332.5 310.2 340.0 309.7"/>
<path d="M219.8 166.5 C223.1 166.5 233.8 166.3 240.0 166.2 C246.2 166.2 254.1 166.0 256.9 166.0"/>
<path d="M168.3 247.7 C173.9 246.9 191.3 244.4 201.7 243.0 C212.1 241.6 226.0 239.9 230.8 239.3"/>
</g>
<g fill="none" stroke="#000000" stroke-width="0.98" stroke-linecap="round" stroke-linejoin="round">
<path d="M104.7 176.3 L105.0 178.0"/>
<path d="M108.0 175.8 L108.3 177.5"/>
<path d="M120.0 175.8 C119.9 176.9 119.6 180.5 119.7 182.5 C119.7 184.5 120.2 187.1 120.3 188.0"/>
<path d="M118.3 176.3 C119.4 176.2 123.1 175.4 125.0 175.8 C126.9 176.3 129.1 177.9 129.7 179.2 C130.2 180.5 129.9 182.2 128.3 183.7 C126.8 185.1 121.7 187.3 120.3 188.0"/>
<path d="M133.3 181.3 C133.0 181.6 131.6 182.2 131.3 183.0 C131.1 183.8 131.1 185.4 131.7 185.8 C132.2 186.3 134.0 186.3 134.7 185.8 C135.4 185.4 136.1 183.8 135.8 183.0 C135.6 182.2 133.8 181.6 133.3 181.3"/>
<path d="M138.0 181.3 C138.1 182.0 138.1 184.7 138.7 185.3 C139.2 186.0 140.6 185.9 141.3 185.3 C142.1 184.7 142.7 182.3 143.0 181.7"/>
<path d="M144.7 175.8 C144.7 176.8 144.6 179.8 144.7 181.7 C144.7 183.5 144.9 186.1 145.0 187.0"/>
<path d="M145.0 187.0 C145.1 186.5 145.2 184.9 145.8 184.2 C146.4 183.4 148.0 182.4 148.7 182.5 C149.4 182.6 150.1 184.0 150.0 184.7 C149.9 185.4 148.8 186.3 148.0 186.7 C147.2 187.1 145.5 186.9 145.0 187.0"/>
<path d="M152.0 175.8 C152.1 176.8 152.2 179.9 152.3 181.7 C152.5 183.4 152.9 185.6 153.0 186.3"/>
<path d="M154.2 184.2 C154.9 183.8 158.2 182.6 158.7 182.0 C159.1 181.4 157.7 180.2 157.0 180.3 C156.3 180.5 154.9 182.1 154.7 183.0 C154.5 183.9 154.9 185.4 155.8 185.8 C156.7 186.2 159.3 185.4 160.0 185.3"/>
<path d="M164.2 182.5 L168.3 182.2"/>
<path d="M178.3 178.7 C177.8 178.8 175.7 179.2 175.3 179.7 C174.9 180.2 175.3 181.1 175.8 181.7 C176.4 182.2 178.3 182.4 178.7 183.0 C179.0 183.6 178.7 184.9 178.0 185.3 C177.3 185.7 175.2 185.3 174.7 185.3"/>
<path d="M181.3 180.0 L181.7 185.0"/>
<path d="M184.2 180.3 L184.7 185.3"/>
<path d="M184.7 182.5 C185.1 181.9 186.2 179.5 187.0 179.2 C187.8 178.8 189.1 179.3 189.7 180.3 C190.2 181.4 190.2 184.5 190.3 185.3"/>
<path d="M104.2 198.3 L104.7 201.3"/>
<path d="M107.5 198.0 L108.0 200.8"/>
<path d="M118.0 198.3 C117.9 199.3 117.6 202.2 117.5 204.2 C117.4 206.1 117.5 209.0 117.5 210.0"/>
<path d="M116.3 198.7 C117.5 198.6 121.5 197.5 123.3 198.0 C125.2 198.5 127.1 200.4 127.5 201.7 C127.9 203.0 127.5 204.5 125.8 205.8 C124.2 207.2 118.9 209.0 117.5 209.7"/>
<path d="M131.3 203.3 C131.0 203.7 129.4 204.6 129.2 205.3 C128.9 206.1 129.1 207.6 129.7 208.0 C130.2 208.4 132.1 208.2 132.7 207.7 C133.3 207.1 133.6 205.4 133.3 204.7 C133.1 203.9 131.7 203.6 131.3 203.3"/>
<path d="M135.3 203.0 C135.7 203.9 136.6 208.8 137.5 208.7 C138.4 208.6 140.3 203.5 140.8 202.5"/>
<path d="M143.7 195.8 C143.7 196.9 143.6 200.3 143.7 202.5 C143.8 204.7 144.1 208.1 144.2 209.2"/>
<path d="M144.2 209.2 C144.3 208.6 144.4 206.7 145.0 205.8 C145.6 205.0 147.3 204.1 148.0 204.2 C148.7 204.2 149.4 205.6 149.3 206.3 C149.2 207.1 148.2 208.2 147.3 208.7 C146.5 209.1 144.7 209.1 144.2 209.2"/>
<path d="M148.0 196.3 L150.0 195.0"/>
<path d="M150.0 195.0 C150.1 196.1 150.5 199.6 150.8 201.7 C151.2 203.8 151.8 206.5 152.0 207.5"/>
<path d="M153.3 205.8 C154.2 205.4 157.8 204.1 158.3 203.3 C158.9 202.6 157.4 201.2 156.7 201.3 C155.9 201.5 154.2 203.1 154.0 204.2 C153.8 205.2 154.3 207.1 155.3 207.5 C156.3 207.9 158.5 207.4 160.0 206.7 C161.5 206.0 163.5 203.9 164.2 203.3"/>
<path d="M170.0 204.2 L175.8 203.8"/>
<path d="M182.5 199.7 C182.0 199.9 180.0 200.3 179.7 200.8 C179.3 201.4 179.8 202.4 180.3 203.0 C180.9 203.6 182.7 203.6 183.0 204.2 C183.3 204.8 182.7 206.3 182.0 206.7 C181.3 207.0 179.2 206.4 178.7 206.3"/>
<path d="M185.3 200.8 L185.8 205.8"/>
<path d="M188.3 201.3 L188.7 206.3"/>
<path d="M188.7 203.3 C189.1 202.8 190.5 200.6 191.3 200.3 C192.2 200.1 193.2 200.8 193.7 201.7 C194.2 202.6 194.2 205.1 194.3 205.8"/>
<path d="M196.7 179.3 C196.2 179.5 194.7 179.8 194.2 180.5 C193.7 181.2 193.4 182.7 193.7 183.3 C193.9 184.0 195.2 184.6 195.8 184.3 C196.5 184.1 197.2 182.5 197.5 181.7 C197.8 180.8 197.6 179.7 197.7 179.3"/>
<path d="M197.7 179.3 C197.8 180.2 198.4 183.0 198.3 184.7 C198.3 186.3 198.0 188.4 197.5 189.3 C197.0 190.2 195.7 189.9 195.3 190.0"/>
<path d="M200.8 174.3 C200.9 175.2 201.1 178.0 201.3 179.7 C201.5 181.3 201.9 183.6 202.0 184.3"/>
<path d="M204.2 182.2 C204.8 181.8 207.6 180.6 208.0 180.0 C208.4 179.4 207.2 178.2 206.7 178.3 C206.1 178.5 204.8 180.1 204.7 181.0 C204.5 181.9 204.7 183.6 205.8 183.8 C207.0 184.1 210.7 182.9 211.7 182.7"/>
<path d="M216.7 181.7 L221.7 181.3"/>
<path d="M232.0 178.0 C231.5 178.2 229.6 178.5 229.2 179.0 C228.8 179.5 229.1 180.5 229.7 181.0 C230.2 181.5 232.2 181.6 232.5 182.2 C232.8 182.8 232.4 184.3 231.7 184.7 C231.0 185.0 228.9 184.4 228.3 184.3"/>
<path d="M235.3 178.8 L235.7 183.8"/>
<path d="M238.3 178.8 L238.8 184.3"/>
<path d="M238.8 181.3 C239.2 180.8 240.5 178.4 241.3 178.0 C242.1 177.6 243.2 178.0 243.7 179.0 C244.2 180.0 244.2 183.2 244.3 184.0"/>
<path d="M252.5 178.3 C252.0 178.4 250.3 178.4 249.7 179.0 C249.0 179.6 248.5 181.4 248.7 182.2 C248.9 183.0 250.1 184.0 250.8 183.8 C251.6 183.6 252.9 181.9 253.3 181.0 C253.8 180.1 253.6 178.8 253.7 178.3"/>
<path d="M253.7 178.3 C253.8 179.4 254.7 182.9 254.7 184.7 C254.6 186.4 254.0 188.3 253.3 188.8 C252.7 189.4 251.2 188.1 250.8 188.0"/>
<path d="M258.0 172.7 C258.1 173.6 258.1 176.6 258.3 178.3 C258.5 180.1 259.0 182.5 259.2 183.3"/>
<path d="M260.8 181.3 C261.6 180.9 264.9 179.7 265.3 179.0 C265.8 178.3 264.3 177.0 263.7 177.2 C263.0 177.3 261.4 179.0 261.3 180.0 C261.2 181.0 262.1 182.8 263.0 183.0 C263.9 183.2 266.3 181.6 267.0 181.3"/>
<path d="M272.5 168.8 L272.8 171.3"/>
<path d="M275.8 168.3 L276.2 170.7"/>
<path d="M199.2 198.0 C198.8 198.1 197.5 198.3 197.0 198.8 C196.5 199.4 196.1 200.7 196.3 201.3 C196.6 202.0 197.7 202.8 198.3 202.7 C199.0 202.5 199.9 201.3 200.3 200.5 C200.8 199.7 200.8 198.1 200.8 197.7"/>
<path d="M200.8 197.7 C201.0 198.7 201.9 201.8 202.0 203.8 C202.1 205.8 202.1 208.5 201.7 209.7 C201.3 210.9 200.1 211.3 199.7 211.0 C199.2 210.7 199.2 208.5 199.2 208.0"/>
<path d="M204.2 193.0 C204.2 194.0 204.5 197.1 204.7 198.8 C204.9 200.6 205.2 202.6 205.3 203.3"/>
<path d="M206.7 201.3 C207.4 201.0 210.3 200.0 210.8 199.3 C211.3 198.6 210.2 197.1 209.7 197.2 C209.1 197.3 207.5 199.0 207.3 200.0 C207.2 201.0 207.7 202.8 208.7 203.0 C209.7 203.2 211.6 202.1 213.3 201.3 C215.1 200.6 218.2 198.8 219.2 198.3"/>
<path d="M219.2 198.3 C220.3 198.1 223.9 197.0 225.8 196.7 C227.8 196.3 230.0 196.4 230.8 196.3"/>
<path d="M235.8 197.2 C235.4 197.4 233.4 197.8 233.0 198.3 C232.6 198.9 233.1 199.9 233.7 200.5 C234.2 201.1 236.1 201.0 236.3 201.7 C236.6 202.4 236.1 204.2 235.3 204.7 C234.6 205.1 232.3 204.4 231.7 204.3"/>
<path d="M239.2 198.3 L239.7 203.3"/>
<path d="M242.0 198.0 L242.7 203.8"/>
<path d="M242.7 200.7 C243.1 200.1 244.2 197.7 245.0 197.3 C245.8 196.9 246.9 197.3 247.5 198.3 C248.1 199.4 248.2 202.8 248.3 203.7"/>
<path d="M255.8 197.2 C255.4 197.3 253.6 197.3 253.0 198.0 C252.4 198.7 251.8 200.5 252.0 201.3 C252.2 202.2 253.4 203.2 254.2 203.0 C254.9 202.8 256.2 201.0 256.7 200.0 C257.1 199.0 256.9 197.6 257.0 197.2"/>
<path d="M257.0 197.2 C257.2 198.4 258.1 202.2 258.0 204.3 C257.9 206.5 257.1 209.2 256.3 210.0 C255.6 210.8 253.8 209.4 253.3 209.3"/>
<path d="M261.3 191.3 C261.4 192.4 261.7 195.9 262.0 198.0 C262.3 200.1 262.8 202.9 263.0 203.8"/>
<path d="M264.7 201.3 C265.4 200.9 268.7 199.8 269.2 199.0 C269.6 198.2 268.2 196.6 267.5 196.7 C266.8 196.8 265.2 198.7 265.0 199.7 C264.8 200.7 265.2 202.4 266.3 202.7 C267.4 202.9 269.9 201.8 271.7 201.0 C273.4 200.2 275.8 198.2 276.7 197.7"/>
<path d="M276.7 197.7 C277.1 197.4 278.4 196.2 279.2 196.0 C279.9 195.8 281.0 196.6 281.3 196.7"/>
<path d="M282.5 199.0 L287.3 198.7"/>
<path d="M289.8 193.2 C289.9 193.6 290.2 194.8 290.6 195.2 C291.1 195.7 292.4 195.6 292.5 196.1 C292.6 196.6 291.8 197.9 291.2 198.2 C290.7 198.6 289.7 198.0 289.4 198.0"/>
<path d="M291.9 192.4 L289.8 193.2"/>
<path d="M295.0 191.8 L295.6 198.0"/>
<path d="M293.8 193.6 L296.9 193.2"/>
<path d="M298.1 193.6 L298.8 198.6"/>
<path d="M298.8 196.1 C299.1 195.6 300.0 193.4 300.6 193.0 C301.2 192.6 302.0 193.1 302.5 194.0 C303.0 194.9 303.0 197.6 303.5 198.6 C304.0 199.6 305.3 199.7 305.6 199.9"/>
<path d="M313.1 187.4 C312.7 187.6 311.3 187.7 310.6 188.6 C309.9 189.6 309.3 191.2 309.0 193.0 C308.7 194.8 308.6 197.3 308.8 199.2 C308.9 201.2 309.5 204.2 310.0 204.9 C310.5 205.5 311.2 204.1 311.5 203.0 C311.8 201.9 312.1 199.1 311.9 198.0 C311.6 196.9 310.7 196.2 310.0 196.1 C309.3 196.0 308.0 196.8 307.8 197.4 C307.5 197.9 307.9 199.2 308.5 199.5 C309.1 199.8 310.8 199.3 311.2 199.2"/>
<path d="M314.8 193.6 L315.2 198.6"/>
<path d="M318.5 196.8 C319.1 196.4 321.5 195.5 321.9 194.9 C322.2 194.3 321.1 193.1 320.6 193.2 C320.1 193.4 318.8 194.9 318.8 195.8 C318.7 196.6 319.2 198.1 320.2 198.6 C321.3 199.1 323.4 199.1 325.0 198.6 C326.6 198.1 328.6 196.9 330.0 195.5 C331.4 194.1 332.6 191.3 333.1 190.5"/>
<path d="M331.2 183.0 L331.6 184.9"/>
<path d="M333.5 184.0 L333.8 185.2"/>
<path d="M359.4 179.4 C357.9 179.9 353.3 181.3 350.6 182.5 C347.9 183.7 344.4 185.8 343.1 186.5"/>
<path d="M369.0 174.0 C369.6 173.7 372.1 172.8 372.5 172.2 C372.9 171.7 371.8 170.6 371.2 170.6 C370.7 170.7 369.2 171.7 369.0 172.5 C368.8 173.3 369.2 175.0 370.0 175.6 C370.8 176.2 373.1 175.9 373.8 176.0"/>
<path d="M378.1 171.9 C377.7 172.0 376.1 172.0 375.6 172.5 C375.1 173.0 374.9 174.3 375.2 174.8 C375.6 175.2 376.9 175.4 377.5 175.0 C378.1 174.6 378.5 172.7 378.8 172.2"/>
<path d="M378.8 172.2 C378.8 172.9 379.2 175.0 379.0 176.2 C378.8 177.5 378.0 179.2 377.8 179.8"/>
<path d="M383.1 171.2 C383.2 171.7 383.1 173.3 383.5 173.8 C383.9 174.2 385.1 174.4 385.6 174.0 C386.2 173.6 386.7 171.7 386.9 171.2"/>
<path d="M391.9 171.9 C391.6 172.0 390.4 172.1 390.0 172.5 C389.6 172.9 389.4 174.1 389.8 174.4 C390.1 174.6 391.4 174.5 391.9 174.0 C392.4 173.5 392.5 171.5 392.8 171.5 C393.0 171.5 392.9 173.7 393.5 174.0 C394.1 174.3 395.8 173.3 396.2 173.1"/>
<path d="M401.0 163.1 C400.9 164.1 400.4 167.1 400.2 168.8 C400.1 170.4 400.5 172.0 400.0 173.1 C399.5 174.3 397.9 175.2 397.5 175.6"/>
<path d="M401.2 172.5 C399.6 173.2 394.4 175.8 391.2 176.9 C388.1 177.9 385.5 177.8 382.5 178.8 C379.5 179.7 374.7 182.1 373.1 182.8"/>
<path d="M369.4 176.0 C371.6 176.0 378.4 176.2 382.5 176.0 C386.6 175.8 390.7 175.6 393.8 175.0 C396.8 174.4 399.8 172.9 401.0 172.5"/>
<path d="M371.2 186.9 C370.8 187.1 369.2 187.4 368.5 188.1 C367.8 188.8 367.2 190.2 367.2 191.0 C367.3 191.8 368.2 192.8 369.0 193.1 C369.8 193.4 371.4 192.8 371.9 192.8"/>
<path d="M375.0 187.5 C374.7 187.9 373.3 188.9 373.1 189.8 C373.0 190.6 373.4 192.3 374.0 192.8 C374.6 193.2 376.3 192.9 376.9 192.2 C377.5 191.6 377.8 189.8 377.5 189.0 C377.2 188.2 375.4 187.8 375.0 187.5"/>
<path d="M381.5 188.1 C381.6 188.8 381.7 191.2 382.2 191.9 C382.8 192.6 384.2 192.7 385.0 192.2 C385.8 191.8 386.6 189.9 386.9 189.4"/>
<path d="M390.0 190.0 L390.6 192.8"/>
<path d="M390.0 191.2 C390.4 190.8 391.5 188.7 392.2 188.5 C393.0 188.3 394.1 189.3 394.8 190.0 C395.4 190.7 395.8 192.3 396.0 192.8"/>
<path d="M400.0 178.8 C400.1 179.8 400.3 182.9 400.6 185.0 C400.9 187.1 401.7 190.2 401.9 191.2"/>
<path d="M398.1 185.6 L403.8 184.4"/>
<path d="M465.3 134.3 L465.6 134.7"/>
<path d="M431.3 145.3 L431.7 154.2"/>
<path d="M434.7 147.5 C435.1 147.1 436.6 145.4 437.5 145.3 C438.4 145.2 440.2 146.1 440.3 147.0 C440.5 147.9 439.2 149.7 438.3 150.8 C437.4 151.9 434.3 153.3 435.0 153.7 C435.7 154.0 441.2 153.1 442.5 153.0"/>
<path d="M450.8 152.5 L447.5 157.5"/>
<path d="M455.3 144.7 L455.7 153.3"/>
<path d="M458.7 145.3 C459.4 145.1 462.3 143.9 463.3 144.2 C464.3 144.4 465.0 146.2 464.7 147.0 C464.3 147.8 461.3 148.1 461.3 148.7 C461.4 149.2 464.6 149.6 465.0 150.3 C465.4 151.1 464.7 152.6 463.7 153.0 C462.6 153.4 459.5 153.0 458.7 153.0"/>
<path d="M472.5 150.8 L470.0 155.3"/>
<path d="M478.0 143.7 L478.3 152.5"/>
<path d="M481.7 143.7 C481.6 144.4 480.4 147.4 481.3 148.0 C482.2 148.6 486.1 147.6 487.0 147.5"/>
<path d="M486.3 143.0 L487.0 153.0"/>
<path d="M494.7 150.3 L494.2 155.8"/>
<path d="M500.8 143.0 L501.3 151.7"/>
<path d="M511.3 142.0 C510.5 142.1 507.2 141.8 506.3 142.5 C505.4 143.2 505.2 145.8 505.8 146.3 C506.4 146.9 509.0 145.6 510.0 146.0 C511.0 146.4 512.3 147.9 511.7 148.7 C511.1 149.5 507.2 150.5 506.3 150.8"/>
<path d="M429.2 167.5 C429.6 167.0 431.0 164.8 432.0 164.7 C433.0 164.5 435.1 165.6 435.3 166.7 C435.6 167.7 434.4 169.4 433.3 170.8 C432.2 172.2 428.0 174.5 428.7 175.0 C429.4 175.5 436.0 173.9 437.5 173.7"/>
<path d="M440.0 165.0 C440.8 164.8 443.6 163.4 444.7 163.7 C445.7 163.9 446.6 165.8 446.3 166.7 C446.1 167.5 442.9 168.0 443.0 168.7 C443.1 169.4 446.6 169.8 447.0 170.8 C447.4 171.8 446.5 174.0 445.3 174.7 C444.2 175.3 440.9 174.7 440.0 174.7"/>
<path d="M451.3 173.3 L447.5 178.7"/>
<path d="M456.7 164.2 C457.2 163.7 458.9 161.5 460.0 161.3 C461.1 161.2 462.9 162.3 463.0 163.3 C463.1 164.4 461.9 166.2 460.8 167.5 C459.8 168.8 456.0 170.9 456.7 171.3 C457.4 171.8 463.6 170.2 465.0 170.0"/>
<path d="M468.3 161.7 C468.3 162.5 467.0 166.0 468.0 166.7 C469.0 167.4 473.1 166.0 474.2 165.8"/>
<path d="M473.3 160.3 L474.2 172.5"/>
<path d="M478.7 172.5 L476.3 176.7"/>
<path d="M486.7 164.2 C487.2 163.7 488.9 161.5 490.0 161.3 C491.1 161.2 492.9 162.3 493.0 163.3 C493.1 164.4 491.9 166.2 490.8 167.5 C489.8 168.8 486.0 170.6 486.7 170.8 C487.4 171.1 493.6 169.4 495.0 169.2"/>
<path d="M504.2 160.0 C503.3 160.2 500.1 160.5 499.2 161.3 C498.2 162.2 498.1 164.4 498.7 165.0 C499.2 165.6 501.6 164.2 502.5 164.7 C503.4 165.1 504.7 166.6 504.2 167.5 C503.6 168.4 500.0 169.6 499.2 170.0"/>
<path d="M427.5 185.8 C428.2 185.6 430.7 184.4 431.7 184.7 C432.6 184.9 433.6 186.7 433.3 187.5 C433.1 188.3 430.2 189.0 430.3 189.7 C430.5 190.4 433.8 190.8 434.2 191.7 C434.5 192.6 433.5 194.5 432.5 195.0 C431.5 195.5 428.8 194.7 428.0 194.7"/>
<path d="M437.5 183.7 C437.4 184.7 435.6 188.8 436.7 189.7 C437.7 190.5 442.5 188.8 443.7 188.7"/>
<path d="M444.2 182.5 C443.9 183.6 442.9 187.1 442.5 189.2 C442.1 191.2 441.8 194.0 441.7 195.0"/>
<path d="M448.2 195.0 L446.8 198.2"/>
<path d="M457.5 184.2 C458.2 183.9 460.7 182.3 461.7 182.5 C462.6 182.7 463.6 184.5 463.3 185.3 C463.1 186.2 460.2 186.8 460.3 187.5 C460.5 188.2 463.8 188.8 464.2 189.7 C464.5 190.6 463.6 192.5 462.5 193.0 C461.4 193.5 458.3 192.6 457.5 192.5"/>
<path d="M471.7 180.8 C470.8 181.0 467.6 181.2 466.7 182.0 C465.8 182.8 465.8 185.3 466.3 185.8 C466.9 186.4 469.1 184.9 470.0 185.3 C470.9 185.8 472.2 187.4 471.7 188.3 C471.2 189.2 467.8 190.4 467.0 190.8"/>
<path d="M506.8 176.0 L516.5 175.8"/>
<path d="M507.2 181.8 L517.8 178.5"/>
<path d="M535.2 164.8 C535.1 165.8 534.7 168.8 534.5 171.0 C534.3 173.2 533.9 177.0 533.8 178.2"/>
<path d="M547.0 164.2 C546.2 164.8 543.0 166.0 542.0 167.5 C541.0 169.0 540.5 171.6 540.8 173.0 C541.1 174.4 542.6 175.9 544.0 176.2 C545.4 176.5 547.6 175.9 549.0 175.0 C550.4 174.1 552.0 172.0 552.5 170.5 C553.0 169.0 552.9 167.1 552.0 166.0 C551.1 164.9 547.8 164.5 547.0 164.2"/>
<path d="M431.6 207.0 C431.5 207.8 430.1 211.3 431.0 212.0 C431.9 212.7 436.0 211.2 437.0 211.0"/>
<path d="M436.4 205.6 C436.1 206.8 435.0 210.8 434.4 213.0 C433.8 215.2 433.2 218.0 433.0 219.0"/>
<path d="M447.0 204.4 C446.3 204.6 443.8 204.8 443.0 205.6 C442.2 206.4 442.0 208.4 442.4 209.0 C442.8 209.6 444.8 208.6 445.6 209.0 C446.4 209.4 447.6 210.8 447.2 211.6 C446.8 212.4 443.7 213.3 443.0 213.6"/>
<path d="M447.6 202.0 L446.4 204.4"/>
</g>
<g fill="none" stroke="#000000" stroke-width="1.2" stroke-linecap="round" stroke-linejoin="round">
<path d="M341.5 174.4 L359.4 179.4 L342.2 187.8"/>
</g>
<g fill="none" stroke="#000000" stroke-width="1.1" stroke-linecap="round" stroke-linejoin="round">
<path d="M438.2 136.2 C436.8 136.5 432.5 137.9 430.0 138.0 C427.5 138.1 424.8 137.4 423.0 136.5 C421.2 135.6 419.9 133.9 419.0 132.5 C418.1 131.1 417.6 129.6 417.8 128.0 C418.0 126.4 418.3 124.7 420.0 123.0 C421.7 121.3 424.7 119.4 428.0 118.0 C431.3 116.6 435.5 115.4 440.0 114.5 C444.5 113.6 450.0 113.0 455.0 112.5 C460.0 112.0 465.0 111.8 470.0 111.5 C475.0 111.2 480.0 111.0 485.0 110.8 C490.0 110.6 495.0 110.3 500.0 110.5 C505.0 110.7 510.0 111.3 515.0 111.8 C520.0 112.3 525.8 113.0 530.0 113.5 C534.2 114.0 537.7 114.3 540.0 115.0 C542.3 115.7 543.4 116.6 544.0 117.5 C544.6 118.4 544.5 119.3 543.8 120.5 C543.1 121.7 542.3 123.1 540.0 124.5 C537.7 125.9 534.2 127.6 530.0 129.0 C525.8 130.4 520.0 131.9 515.0 133.0 C510.0 134.1 507.5 134.8 500.0 135.5 C492.5 136.2 480.0 136.8 470.0 137.2 C460.0 137.6 447.7 138.1 440.0 138.2 C432.3 138.3 427.2 137.8 424.0 138.0 C420.8 138.2 421.1 139.1 420.5 139.3"/>
</g>
<g fill="none" stroke="#000000" stroke-width="1.0" stroke-linecap="round" stroke-linejoin="round">
<path d="M420.3 139.7 C420.0 141.7 419.1 147.0 418.7 151.7 C418.3 156.4 418.0 162.4 418.0 168.0 C418.0 173.6 418.4 179.7 418.6 185.0 C418.9 190.3 419.1 194.2 419.5 200.0 C419.9 205.8 420.5 214.1 421.0 220.0 C421.5 225.9 422.2 233.0 422.4 235.6"/>
<path d="M420.3 139.7 C420.7 140.1 421.7 141.4 422.5 142.0 C423.3 142.6 420.7 142.8 425.0 143.0 C429.3 143.2 438.9 143.2 448.3 143.0 C457.8 142.8 471.7 142.6 481.7 142.0 C491.7 141.4 499.0 140.0 508.3 139.2 C517.6 138.4 532.6 137.4 537.5 137.0"/>
<path d="M537.5 137.0 L526.0 148.0 L515.0 158.3 L501.7 168.5 L490.0 180.5 L470.0 199.0 L440.0 223.5 L422.4 235.6"/>
</g>
</svg></body></html>
